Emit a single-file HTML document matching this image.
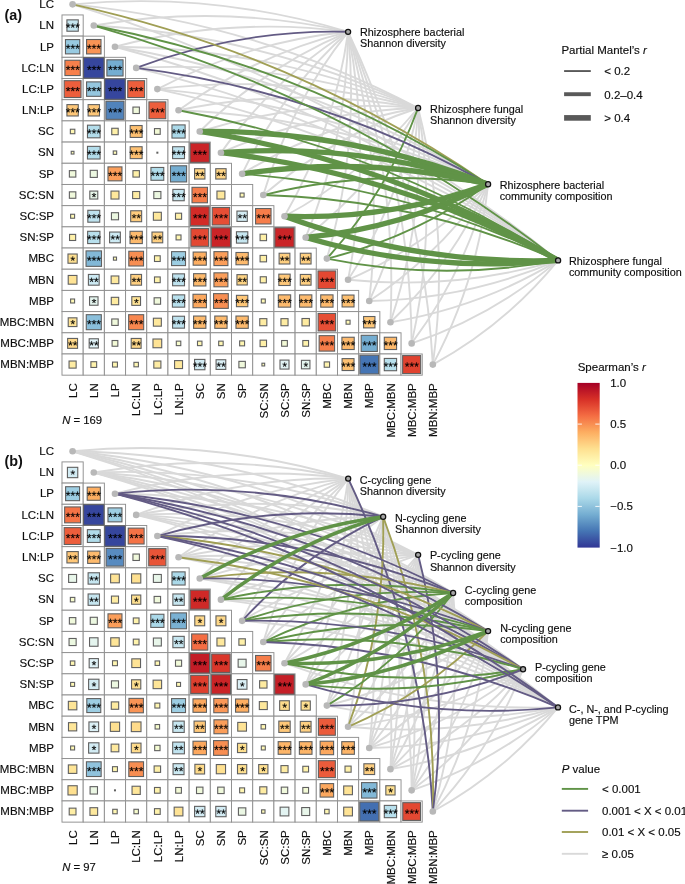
<!DOCTYPE html><html><head><meta charset="utf-8"><style>
html,body{margin:0;padding:0;background:#fff;}
svg{display:block;font-family:"Liberation Sans",sans-serif;will-change:transform;}
</style></head><body>
<svg width="685" height="884" viewBox="0 0 685 884">
<defs><path id="ast" d="M0.337,-0.381 L1.897,-0.990 L2.162,-0.210 L0.496,0.222 L1.589,1.699 L0.886,2.124 L0.000,0.600 L-0.922,2.112 L-1.625,1.687 L-0.508,0.222 L-2.162,-0.210 L-1.897,-1.001 L-0.319,-0.369 L-0.390,-2.124 L0.414,-2.124Z"/></defs>
<g fill="none" stroke-linecap="butt">
<path d="M72.59,4.34Q213.02,-8.79 348.10,31.80" stroke="#d9d9d9" stroke-width="1.9"/>
<path d="M93.78,25.54Q221.55,3.87 348.10,31.80" stroke="#d9d9d9" stroke-width="1.9"/>
<path d="M114.97,46.73Q230.08,16.53 348.10,31.80" stroke="#d9d9d9" stroke-width="1.9"/>
<path d="M157.36,89.11Q247.14,41.85 348.10,31.80" stroke="#d9d9d9" stroke-width="1.9"/>
<path d="M178.55,110.30Q255.67,54.52 348.10,31.80" stroke="#d9d9d9" stroke-width="1.9"/>
<path d="M199.74,131.49Q264.20,67.18 348.10,31.80" stroke="#d9d9d9" stroke-width="1.9"/>
<path d="M220.93,152.68Q272.73,79.84 348.10,31.80" stroke="#d9d9d9" stroke-width="1.9"/>
<path d="M242.12,173.87Q281.26,92.50 348.10,31.80" stroke="#d9d9d9" stroke-width="1.9"/>
<path d="M263.31,195.06Q289.79,105.16 348.10,31.80" stroke="#d9d9d9" stroke-width="1.9"/>
<path d="M284.50,216.25Q334.28,130.22 348.10,31.80" stroke="#d9d9d9" stroke-width="1.9"/>
<path d="M305.69,237.44Q346.94,138.75 348.10,31.80" stroke="#d9d9d9" stroke-width="1.9"/>
<path d="M326.88,258.62Q359.60,147.28 348.10,31.80" stroke="#d9d9d9" stroke-width="1.9"/>
<path d="M348.06,279.81Q372.26,155.81 348.10,31.80" stroke="#d9d9d9" stroke-width="1.9"/>
<path d="M369.25,301.00Q384.92,164.34 348.10,31.80" stroke="#d9d9d9" stroke-width="1.9"/>
<path d="M390.44,322.19Q397.59,172.87 348.10,31.80" stroke="#d9d9d9" stroke-width="1.9"/>
<path d="M411.64,343.38Q410.25,181.40 348.10,31.80" stroke="#d9d9d9" stroke-width="1.9"/>
<path d="M432.83,364.58Q422.91,189.93 348.10,31.80" stroke="#d9d9d9" stroke-width="1.9"/>
<path d="M72.59,4.34Q255.45,22.49 418.10,108.00" stroke="#d9d9d9" stroke-width="1.9"/>
<path d="M93.78,25.54Q263.98,35.15 418.10,108.00" stroke="#d9d9d9" stroke-width="1.9"/>
<path d="M114.97,46.73Q272.51,47.81 418.10,108.00" stroke="#d9d9d9" stroke-width="1.9"/>
<path d="M136.17,67.92Q281.04,60.47 418.10,108.00" stroke="#d9d9d9" stroke-width="1.9"/>
<path d="M157.36,89.11Q289.57,73.13 418.10,108.00" stroke="#d9d9d9" stroke-width="1.9"/>
<path d="M178.55,110.30Q298.10,85.79 418.10,108.00" stroke="#d9d9d9" stroke-width="1.9"/>
<path d="M199.74,131.49Q306.63,98.45 418.10,108.00" stroke="#d9d9d9" stroke-width="1.9"/>
<path d="M220.93,152.68Q315.16,111.11 418.10,108.00" stroke="#d9d9d9" stroke-width="1.9"/>
<path d="M242.12,173.87Q323.69,123.77 418.10,108.00" stroke="#d9d9d9" stroke-width="1.9"/>
<path d="M263.31,195.06Q332.21,136.43 418.10,108.00" stroke="#d9d9d9" stroke-width="1.9"/>
<path d="M284.50,216.25Q361.85,175.15 418.10,108.00" stroke="#d9d9d9" stroke-width="1.9"/>
<path d="M305.69,237.44Q374.51,183.68 418.10,108.00" stroke="#d9d9d9" stroke-width="1.9"/>
<path d="M348.06,279.81Q399.83,200.74 418.10,108.00" stroke="#d9d9d9" stroke-width="1.9"/>
<path d="M369.25,301.00Q412.50,209.26 418.10,108.00" stroke="#d9d9d9" stroke-width="1.9"/>
<path d="M390.44,322.19Q425.16,217.79 418.10,108.00" stroke="#d9d9d9" stroke-width="1.9"/>
<path d="M411.64,343.38Q437.82,226.32 418.10,108.00" stroke="#d9d9d9" stroke-width="1.9"/>
<path d="M432.83,364.58Q450.48,234.85 418.10,108.00" stroke="#d9d9d9" stroke-width="1.9"/>
<path d="M114.97,46.73Q314.94,79.08 488.10,184.20" stroke="#d9d9d9" stroke-width="1.9"/>
<path d="M157.36,89.11Q332.00,104.40 488.10,184.20" stroke="#d9d9d9" stroke-width="1.9"/>
<path d="M178.55,110.30Q340.53,117.07 488.10,184.20" stroke="#d9d9d9" stroke-width="1.9"/>
<path d="M348.06,279.81Q427.40,245.66 488.10,184.20" stroke="#d9d9d9" stroke-width="1.9"/>
<path d="M369.25,301.00Q440.07,254.19 488.10,184.20" stroke="#d9d9d9" stroke-width="1.9"/>
<path d="M390.44,322.19Q452.73,262.72 488.10,184.20" stroke="#d9d9d9" stroke-width="1.9"/>
<path d="M411.64,343.38Q465.39,271.25 488.10,184.20" stroke="#d9d9d9" stroke-width="1.9"/>
<path d="M432.83,364.58Q478.05,279.78 488.10,184.20" stroke="#d9d9d9" stroke-width="1.9"/>
<path d="M72.59,4.34Q340.31,85.04 558.10,260.40" stroke="#d9d9d9" stroke-width="1.9"/>
<path d="M114.97,46.73Q357.37,110.36 558.10,260.40" stroke="#d9d9d9" stroke-width="1.9"/>
<path d="M136.17,67.92Q365.90,123.02 558.10,260.40" stroke="#d9d9d9" stroke-width="1.9"/>
<path d="M157.36,89.11Q374.43,135.68 558.10,260.40" stroke="#d9d9d9" stroke-width="1.9"/>
<path d="M348.06,279.81Q454.98,290.59 558.10,260.40" stroke="#d9d9d9" stroke-width="1.9"/>
<path d="M369.25,301.00Q467.64,299.11 558.10,260.40" stroke="#d9d9d9" stroke-width="1.9"/>
<path d="M390.44,322.19Q480.30,307.64 558.10,260.40" stroke="#d9d9d9" stroke-width="1.9"/>
<path d="M411.64,343.38Q492.96,316.17 558.10,260.40" stroke="#d9d9d9" stroke-width="1.9"/>
<path d="M432.83,364.58Q505.62,324.70 558.10,260.40" stroke="#d9d9d9" stroke-width="1.9"/>
<path d="M136.17,67.92Q238.61,29.19 348.10,31.80" stroke="#635b84" stroke-width="1.9"/>
<path d="M326.88,258.62Q387.17,192.21 418.10,108.00" stroke="#609347" stroke-width="1.9"/>
<path d="M72.59,4.34Q297.88,53.76 488.10,184.20" stroke="#a09f55" stroke-width="1.9"/>
<path d="M93.78,25.54Q306.41,66.42 488.10,184.20" stroke="#609347" stroke-width="1.9"/>
<path d="M136.17,67.92Q323.47,91.74 488.10,184.20" stroke="#635b84" stroke-width="1.9"/>
<path d="M263.31,195.06Q374.64,167.71 488.10,184.20" stroke="#609347" stroke-width="1.9"/>
<path d="M326.88,258.62Q414.74,237.13 488.10,184.20" stroke="#609347" stroke-width="1.9"/>
<path d="M93.78,25.54Q348.84,97.70 558.10,260.40" stroke="#609347" stroke-width="1.9"/>
<path d="M178.55,110.30Q382.96,148.34 558.10,260.40" stroke="#609347" stroke-width="1.9"/>
<path d="M242.12,173.87Q408.54,186.32 558.10,260.40" stroke="#609347" stroke-width="1.9"/>
<path d="M263.31,195.06Q417.07,198.98 558.10,260.40" stroke="#609347" stroke-width="1.9"/>
<path d="M326.88,258.62Q442.31,282.06 558.10,260.40" stroke="#609347" stroke-width="1.9"/>
<path d="M199.74,131.49Q349.06,129.73 488.10,184.20" stroke="#609347" stroke-width="5.3"/>
<path d="M220.93,152.68Q357.59,142.39 488.10,184.20" stroke="#609347" stroke-width="5.3"/>
<path d="M242.12,173.87Q366.12,155.05 488.10,184.20" stroke="#609347" stroke-width="5.3"/>
<path d="M284.50,216.25Q389.42,220.07 488.10,184.20" stroke="#609347" stroke-width="5.3"/>
<path d="M305.69,237.44Q402.08,228.60 488.10,184.20" stroke="#609347" stroke-width="5.3"/>
<path d="M199.74,131.49Q391.49,161.00 558.10,260.40" stroke="#609347" stroke-width="5.3"/>
<path d="M220.93,152.68Q400.02,173.66 558.10,260.40" stroke="#609347" stroke-width="5.3"/>
<path d="M284.50,216.25Q416.99,265.00 558.10,260.40" stroke="#609347" stroke-width="5.3"/>
<path d="M305.69,237.44Q429.65,273.53 558.10,260.40" stroke="#609347" stroke-width="5.3"/>
</g>
<g>
<rect x="62.00" y="14.94" width="21.19" height="21.19" fill="#fff" stroke="#8f8f8f" stroke-width="0.95"/>
<rect x="62.00" y="36.13" width="21.19" height="21.19" fill="#fff" stroke="#8f8f8f" stroke-width="0.95"/>
<rect x="83.19" y="36.13" width="21.19" height="21.19" fill="#fff" stroke="#8f8f8f" stroke-width="0.95"/>
<rect x="62.00" y="57.32" width="21.19" height="21.19" fill="#fff" stroke="#8f8f8f" stroke-width="0.95"/>
<rect x="83.19" y="57.32" width="21.19" height="21.19" fill="#fff" stroke="#8f8f8f" stroke-width="0.95"/>
<rect x="104.38" y="57.32" width="21.19" height="21.19" fill="#fff" stroke="#8f8f8f" stroke-width="0.95"/>
<rect x="62.00" y="78.51" width="21.19" height="21.19" fill="#fff" stroke="#8f8f8f" stroke-width="0.95"/>
<rect x="83.19" y="78.51" width="21.19" height="21.19" fill="#fff" stroke="#8f8f8f" stroke-width="0.95"/>
<rect x="104.38" y="78.51" width="21.19" height="21.19" fill="#fff" stroke="#8f8f8f" stroke-width="0.95"/>
<rect x="125.57" y="78.51" width="21.19" height="21.19" fill="#fff" stroke="#8f8f8f" stroke-width="0.95"/>
<rect x="62.00" y="99.70" width="21.19" height="21.19" fill="#fff" stroke="#8f8f8f" stroke-width="0.95"/>
<rect x="83.19" y="99.70" width="21.19" height="21.19" fill="#fff" stroke="#8f8f8f" stroke-width="0.95"/>
<rect x="104.38" y="99.70" width="21.19" height="21.19" fill="#fff" stroke="#8f8f8f" stroke-width="0.95"/>
<rect x="125.57" y="99.70" width="21.19" height="21.19" fill="#fff" stroke="#8f8f8f" stroke-width="0.95"/>
<rect x="146.76" y="99.70" width="21.19" height="21.19" fill="#fff" stroke="#8f8f8f" stroke-width="0.95"/>
<rect x="62.00" y="120.89" width="21.19" height="21.19" fill="#fff" stroke="#8f8f8f" stroke-width="0.95"/>
<rect x="83.19" y="120.89" width="21.19" height="21.19" fill="#fff" stroke="#8f8f8f" stroke-width="0.95"/>
<rect x="104.38" y="120.89" width="21.19" height="21.19" fill="#fff" stroke="#8f8f8f" stroke-width="0.95"/>
<rect x="125.57" y="120.89" width="21.19" height="21.19" fill="#fff" stroke="#8f8f8f" stroke-width="0.95"/>
<rect x="146.76" y="120.89" width="21.19" height="21.19" fill="#fff" stroke="#8f8f8f" stroke-width="0.95"/>
<rect x="167.95" y="120.89" width="21.19" height="21.19" fill="#fff" stroke="#8f8f8f" stroke-width="0.95"/>
<rect x="62.00" y="142.08" width="21.19" height="21.19" fill="#fff" stroke="#8f8f8f" stroke-width="0.95"/>
<rect x="83.19" y="142.08" width="21.19" height="21.19" fill="#fff" stroke="#8f8f8f" stroke-width="0.95"/>
<rect x="104.38" y="142.08" width="21.19" height="21.19" fill="#fff" stroke="#8f8f8f" stroke-width="0.95"/>
<rect x="125.57" y="142.08" width="21.19" height="21.19" fill="#fff" stroke="#8f8f8f" stroke-width="0.95"/>
<rect x="146.76" y="142.08" width="21.19" height="21.19" fill="#fff" stroke="#8f8f8f" stroke-width="0.95"/>
<rect x="167.95" y="142.08" width="21.19" height="21.19" fill="#fff" stroke="#8f8f8f" stroke-width="0.95"/>
<rect x="189.14" y="142.08" width="21.19" height="21.19" fill="#fff" stroke="#8f8f8f" stroke-width="0.95"/>
<rect x="62.00" y="163.27" width="21.19" height="21.19" fill="#fff" stroke="#8f8f8f" stroke-width="0.95"/>
<rect x="83.19" y="163.27" width="21.19" height="21.19" fill="#fff" stroke="#8f8f8f" stroke-width="0.95"/>
<rect x="104.38" y="163.27" width="21.19" height="21.19" fill="#fff" stroke="#8f8f8f" stroke-width="0.95"/>
<rect x="125.57" y="163.27" width="21.19" height="21.19" fill="#fff" stroke="#8f8f8f" stroke-width="0.95"/>
<rect x="146.76" y="163.27" width="21.19" height="21.19" fill="#fff" stroke="#8f8f8f" stroke-width="0.95"/>
<rect x="167.95" y="163.27" width="21.19" height="21.19" fill="#fff" stroke="#8f8f8f" stroke-width="0.95"/>
<rect x="189.14" y="163.27" width="21.19" height="21.19" fill="#fff" stroke="#8f8f8f" stroke-width="0.95"/>
<rect x="210.33" y="163.27" width="21.19" height="21.19" fill="#fff" stroke="#8f8f8f" stroke-width="0.95"/>
<rect x="62.00" y="184.46" width="21.19" height="21.19" fill="#fff" stroke="#8f8f8f" stroke-width="0.95"/>
<rect x="83.19" y="184.46" width="21.19" height="21.19" fill="#fff" stroke="#8f8f8f" stroke-width="0.95"/>
<rect x="104.38" y="184.46" width="21.19" height="21.19" fill="#fff" stroke="#8f8f8f" stroke-width="0.95"/>
<rect x="125.57" y="184.46" width="21.19" height="21.19" fill="#fff" stroke="#8f8f8f" stroke-width="0.95"/>
<rect x="146.76" y="184.46" width="21.19" height="21.19" fill="#fff" stroke="#8f8f8f" stroke-width="0.95"/>
<rect x="167.95" y="184.46" width="21.19" height="21.19" fill="#fff" stroke="#8f8f8f" stroke-width="0.95"/>
<rect x="189.14" y="184.46" width="21.19" height="21.19" fill="#fff" stroke="#8f8f8f" stroke-width="0.95"/>
<rect x="210.33" y="184.46" width="21.19" height="21.19" fill="#fff" stroke="#8f8f8f" stroke-width="0.95"/>
<rect x="231.52" y="184.46" width="21.19" height="21.19" fill="#fff" stroke="#8f8f8f" stroke-width="0.95"/>
<rect x="62.00" y="205.65" width="21.19" height="21.19" fill="#fff" stroke="#8f8f8f" stroke-width="0.95"/>
<rect x="83.19" y="205.65" width="21.19" height="21.19" fill="#fff" stroke="#8f8f8f" stroke-width="0.95"/>
<rect x="104.38" y="205.65" width="21.19" height="21.19" fill="#fff" stroke="#8f8f8f" stroke-width="0.95"/>
<rect x="125.57" y="205.65" width="21.19" height="21.19" fill="#fff" stroke="#8f8f8f" stroke-width="0.95"/>
<rect x="146.76" y="205.65" width="21.19" height="21.19" fill="#fff" stroke="#8f8f8f" stroke-width="0.95"/>
<rect x="167.95" y="205.65" width="21.19" height="21.19" fill="#fff" stroke="#8f8f8f" stroke-width="0.95"/>
<rect x="189.14" y="205.65" width="21.19" height="21.19" fill="#fff" stroke="#8f8f8f" stroke-width="0.95"/>
<rect x="210.33" y="205.65" width="21.19" height="21.19" fill="#fff" stroke="#8f8f8f" stroke-width="0.95"/>
<rect x="231.52" y="205.65" width="21.19" height="21.19" fill="#fff" stroke="#8f8f8f" stroke-width="0.95"/>
<rect x="252.71" y="205.65" width="21.19" height="21.19" fill="#fff" stroke="#8f8f8f" stroke-width="0.95"/>
<rect x="62.00" y="226.84" width="21.19" height="21.19" fill="#fff" stroke="#8f8f8f" stroke-width="0.95"/>
<rect x="83.19" y="226.84" width="21.19" height="21.19" fill="#fff" stroke="#8f8f8f" stroke-width="0.95"/>
<rect x="104.38" y="226.84" width="21.19" height="21.19" fill="#fff" stroke="#8f8f8f" stroke-width="0.95"/>
<rect x="125.57" y="226.84" width="21.19" height="21.19" fill="#fff" stroke="#8f8f8f" stroke-width="0.95"/>
<rect x="146.76" y="226.84" width="21.19" height="21.19" fill="#fff" stroke="#8f8f8f" stroke-width="0.95"/>
<rect x="167.95" y="226.84" width="21.19" height="21.19" fill="#fff" stroke="#8f8f8f" stroke-width="0.95"/>
<rect x="189.14" y="226.84" width="21.19" height="21.19" fill="#fff" stroke="#8f8f8f" stroke-width="0.95"/>
<rect x="210.33" y="226.84" width="21.19" height="21.19" fill="#fff" stroke="#8f8f8f" stroke-width="0.95"/>
<rect x="231.52" y="226.84" width="21.19" height="21.19" fill="#fff" stroke="#8f8f8f" stroke-width="0.95"/>
<rect x="252.71" y="226.84" width="21.19" height="21.19" fill="#fff" stroke="#8f8f8f" stroke-width="0.95"/>
<rect x="273.90" y="226.84" width="21.19" height="21.19" fill="#fff" stroke="#8f8f8f" stroke-width="0.95"/>
<rect x="62.00" y="248.03" width="21.19" height="21.19" fill="#fff" stroke="#8f8f8f" stroke-width="0.95"/>
<rect x="83.19" y="248.03" width="21.19" height="21.19" fill="#fff" stroke="#8f8f8f" stroke-width="0.95"/>
<rect x="104.38" y="248.03" width="21.19" height="21.19" fill="#fff" stroke="#8f8f8f" stroke-width="0.95"/>
<rect x="125.57" y="248.03" width="21.19" height="21.19" fill="#fff" stroke="#8f8f8f" stroke-width="0.95"/>
<rect x="146.76" y="248.03" width="21.19" height="21.19" fill="#fff" stroke="#8f8f8f" stroke-width="0.95"/>
<rect x="167.95" y="248.03" width="21.19" height="21.19" fill="#fff" stroke="#8f8f8f" stroke-width="0.95"/>
<rect x="189.14" y="248.03" width="21.19" height="21.19" fill="#fff" stroke="#8f8f8f" stroke-width="0.95"/>
<rect x="210.33" y="248.03" width="21.19" height="21.19" fill="#fff" stroke="#8f8f8f" stroke-width="0.95"/>
<rect x="231.52" y="248.03" width="21.19" height="21.19" fill="#fff" stroke="#8f8f8f" stroke-width="0.95"/>
<rect x="252.71" y="248.03" width="21.19" height="21.19" fill="#fff" stroke="#8f8f8f" stroke-width="0.95"/>
<rect x="273.90" y="248.03" width="21.19" height="21.19" fill="#fff" stroke="#8f8f8f" stroke-width="0.95"/>
<rect x="295.09" y="248.03" width="21.19" height="21.19" fill="#fff" stroke="#8f8f8f" stroke-width="0.95"/>
<rect x="62.00" y="269.22" width="21.19" height="21.19" fill="#fff" stroke="#8f8f8f" stroke-width="0.95"/>
<rect x="83.19" y="269.22" width="21.19" height="21.19" fill="#fff" stroke="#8f8f8f" stroke-width="0.95"/>
<rect x="104.38" y="269.22" width="21.19" height="21.19" fill="#fff" stroke="#8f8f8f" stroke-width="0.95"/>
<rect x="125.57" y="269.22" width="21.19" height="21.19" fill="#fff" stroke="#8f8f8f" stroke-width="0.95"/>
<rect x="146.76" y="269.22" width="21.19" height="21.19" fill="#fff" stroke="#8f8f8f" stroke-width="0.95"/>
<rect x="167.95" y="269.22" width="21.19" height="21.19" fill="#fff" stroke="#8f8f8f" stroke-width="0.95"/>
<rect x="189.14" y="269.22" width="21.19" height="21.19" fill="#fff" stroke="#8f8f8f" stroke-width="0.95"/>
<rect x="210.33" y="269.22" width="21.19" height="21.19" fill="#fff" stroke="#8f8f8f" stroke-width="0.95"/>
<rect x="231.52" y="269.22" width="21.19" height="21.19" fill="#fff" stroke="#8f8f8f" stroke-width="0.95"/>
<rect x="252.71" y="269.22" width="21.19" height="21.19" fill="#fff" stroke="#8f8f8f" stroke-width="0.95"/>
<rect x="273.90" y="269.22" width="21.19" height="21.19" fill="#fff" stroke="#8f8f8f" stroke-width="0.95"/>
<rect x="295.09" y="269.22" width="21.19" height="21.19" fill="#fff" stroke="#8f8f8f" stroke-width="0.95"/>
<rect x="316.28" y="269.22" width="21.19" height="21.19" fill="#fff" stroke="#8f8f8f" stroke-width="0.95"/>
<rect x="62.00" y="290.41" width="21.19" height="21.19" fill="#fff" stroke="#8f8f8f" stroke-width="0.95"/>
<rect x="83.19" y="290.41" width="21.19" height="21.19" fill="#fff" stroke="#8f8f8f" stroke-width="0.95"/>
<rect x="104.38" y="290.41" width="21.19" height="21.19" fill="#fff" stroke="#8f8f8f" stroke-width="0.95"/>
<rect x="125.57" y="290.41" width="21.19" height="21.19" fill="#fff" stroke="#8f8f8f" stroke-width="0.95"/>
<rect x="146.76" y="290.41" width="21.19" height="21.19" fill="#fff" stroke="#8f8f8f" stroke-width="0.95"/>
<rect x="167.95" y="290.41" width="21.19" height="21.19" fill="#fff" stroke="#8f8f8f" stroke-width="0.95"/>
<rect x="189.14" y="290.41" width="21.19" height="21.19" fill="#fff" stroke="#8f8f8f" stroke-width="0.95"/>
<rect x="210.33" y="290.41" width="21.19" height="21.19" fill="#fff" stroke="#8f8f8f" stroke-width="0.95"/>
<rect x="231.52" y="290.41" width="21.19" height="21.19" fill="#fff" stroke="#8f8f8f" stroke-width="0.95"/>
<rect x="252.71" y="290.41" width="21.19" height="21.19" fill="#fff" stroke="#8f8f8f" stroke-width="0.95"/>
<rect x="273.90" y="290.41" width="21.19" height="21.19" fill="#fff" stroke="#8f8f8f" stroke-width="0.95"/>
<rect x="295.09" y="290.41" width="21.19" height="21.19" fill="#fff" stroke="#8f8f8f" stroke-width="0.95"/>
<rect x="316.28" y="290.41" width="21.19" height="21.19" fill="#fff" stroke="#8f8f8f" stroke-width="0.95"/>
<rect x="337.47" y="290.41" width="21.19" height="21.19" fill="#fff" stroke="#8f8f8f" stroke-width="0.95"/>
<rect x="62.00" y="311.60" width="21.19" height="21.19" fill="#fff" stroke="#8f8f8f" stroke-width="0.95"/>
<rect x="83.19" y="311.60" width="21.19" height="21.19" fill="#fff" stroke="#8f8f8f" stroke-width="0.95"/>
<rect x="104.38" y="311.60" width="21.19" height="21.19" fill="#fff" stroke="#8f8f8f" stroke-width="0.95"/>
<rect x="125.57" y="311.60" width="21.19" height="21.19" fill="#fff" stroke="#8f8f8f" stroke-width="0.95"/>
<rect x="146.76" y="311.60" width="21.19" height="21.19" fill="#fff" stroke="#8f8f8f" stroke-width="0.95"/>
<rect x="167.95" y="311.60" width="21.19" height="21.19" fill="#fff" stroke="#8f8f8f" stroke-width="0.95"/>
<rect x="189.14" y="311.60" width="21.19" height="21.19" fill="#fff" stroke="#8f8f8f" stroke-width="0.95"/>
<rect x="210.33" y="311.60" width="21.19" height="21.19" fill="#fff" stroke="#8f8f8f" stroke-width="0.95"/>
<rect x="231.52" y="311.60" width="21.19" height="21.19" fill="#fff" stroke="#8f8f8f" stroke-width="0.95"/>
<rect x="252.71" y="311.60" width="21.19" height="21.19" fill="#fff" stroke="#8f8f8f" stroke-width="0.95"/>
<rect x="273.90" y="311.60" width="21.19" height="21.19" fill="#fff" stroke="#8f8f8f" stroke-width="0.95"/>
<rect x="295.09" y="311.60" width="21.19" height="21.19" fill="#fff" stroke="#8f8f8f" stroke-width="0.95"/>
<rect x="316.28" y="311.60" width="21.19" height="21.19" fill="#fff" stroke="#8f8f8f" stroke-width="0.95"/>
<rect x="337.47" y="311.60" width="21.19" height="21.19" fill="#fff" stroke="#8f8f8f" stroke-width="0.95"/>
<rect x="358.66" y="311.60" width="21.19" height="21.19" fill="#fff" stroke="#8f8f8f" stroke-width="0.95"/>
<rect x="62.00" y="332.79" width="21.19" height="21.19" fill="#fff" stroke="#8f8f8f" stroke-width="0.95"/>
<rect x="83.19" y="332.79" width="21.19" height="21.19" fill="#fff" stroke="#8f8f8f" stroke-width="0.95"/>
<rect x="104.38" y="332.79" width="21.19" height="21.19" fill="#fff" stroke="#8f8f8f" stroke-width="0.95"/>
<rect x="125.57" y="332.79" width="21.19" height="21.19" fill="#fff" stroke="#8f8f8f" stroke-width="0.95"/>
<rect x="146.76" y="332.79" width="21.19" height="21.19" fill="#fff" stroke="#8f8f8f" stroke-width="0.95"/>
<rect x="167.95" y="332.79" width="21.19" height="21.19" fill="#fff" stroke="#8f8f8f" stroke-width="0.95"/>
<rect x="189.14" y="332.79" width="21.19" height="21.19" fill="#fff" stroke="#8f8f8f" stroke-width="0.95"/>
<rect x="210.33" y="332.79" width="21.19" height="21.19" fill="#fff" stroke="#8f8f8f" stroke-width="0.95"/>
<rect x="231.52" y="332.79" width="21.19" height="21.19" fill="#fff" stroke="#8f8f8f" stroke-width="0.95"/>
<rect x="252.71" y="332.79" width="21.19" height="21.19" fill="#fff" stroke="#8f8f8f" stroke-width="0.95"/>
<rect x="273.90" y="332.79" width="21.19" height="21.19" fill="#fff" stroke="#8f8f8f" stroke-width="0.95"/>
<rect x="295.09" y="332.79" width="21.19" height="21.19" fill="#fff" stroke="#8f8f8f" stroke-width="0.95"/>
<rect x="316.28" y="332.79" width="21.19" height="21.19" fill="#fff" stroke="#8f8f8f" stroke-width="0.95"/>
<rect x="337.47" y="332.79" width="21.19" height="21.19" fill="#fff" stroke="#8f8f8f" stroke-width="0.95"/>
<rect x="358.66" y="332.79" width="21.19" height="21.19" fill="#fff" stroke="#8f8f8f" stroke-width="0.95"/>
<rect x="379.85" y="332.79" width="21.19" height="21.19" fill="#fff" stroke="#8f8f8f" stroke-width="0.95"/>
<rect x="62.00" y="353.98" width="21.19" height="21.19" fill="#fff" stroke="#8f8f8f" stroke-width="0.95"/>
<rect x="83.19" y="353.98" width="21.19" height="21.19" fill="#fff" stroke="#8f8f8f" stroke-width="0.95"/>
<rect x="104.38" y="353.98" width="21.19" height="21.19" fill="#fff" stroke="#8f8f8f" stroke-width="0.95"/>
<rect x="125.57" y="353.98" width="21.19" height="21.19" fill="#fff" stroke="#8f8f8f" stroke-width="0.95"/>
<rect x="146.76" y="353.98" width="21.19" height="21.19" fill="#fff" stroke="#8f8f8f" stroke-width="0.95"/>
<rect x="167.95" y="353.98" width="21.19" height="21.19" fill="#fff" stroke="#8f8f8f" stroke-width="0.95"/>
<rect x="189.14" y="353.98" width="21.19" height="21.19" fill="#fff" stroke="#8f8f8f" stroke-width="0.95"/>
<rect x="210.33" y="353.98" width="21.19" height="21.19" fill="#fff" stroke="#8f8f8f" stroke-width="0.95"/>
<rect x="231.52" y="353.98" width="21.19" height="21.19" fill="#fff" stroke="#8f8f8f" stroke-width="0.95"/>
<rect x="252.71" y="353.98" width="21.19" height="21.19" fill="#fff" stroke="#8f8f8f" stroke-width="0.95"/>
<rect x="273.90" y="353.98" width="21.19" height="21.19" fill="#fff" stroke="#8f8f8f" stroke-width="0.95"/>
<rect x="295.09" y="353.98" width="21.19" height="21.19" fill="#fff" stroke="#8f8f8f" stroke-width="0.95"/>
<rect x="316.28" y="353.98" width="21.19" height="21.19" fill="#fff" stroke="#8f8f8f" stroke-width="0.95"/>
<rect x="337.47" y="353.98" width="21.19" height="21.19" fill="#fff" stroke="#8f8f8f" stroke-width="0.95"/>
<rect x="358.66" y="353.98" width="21.19" height="21.19" fill="#fff" stroke="#8f8f8f" stroke-width="0.95"/>
<rect x="379.85" y="353.98" width="21.19" height="21.19" fill="#fff" stroke="#8f8f8f" stroke-width="0.95"/>
<rect x="401.04" y="353.98" width="21.19" height="21.19" fill="#fff" stroke="#8f8f8f" stroke-width="0.95"/>
<rect x="66.92" y="19.86" width="11.36" height="11.36" fill="#c6e6f0" stroke="#606060" stroke-width="1.1"/>
<rect x="65.46" y="39.59" width="14.28" height="14.28" fill="#98cae1" stroke="#606060" stroke-width="1.1"/>
<rect x="86.57" y="39.51" width="14.43" height="14.43" fill="#f99455" stroke="#606060" stroke-width="1.1"/>
<rect x="64.93" y="60.25" width="15.32" height="15.32" fill="#f7804c" stroke="#606060" stroke-width="1.1"/>
<rect x="83.58" y="57.71" width="20.40" height="20.40" fill="#36469d" stroke="#606060" stroke-width="1.1"/>
<rect x="106.89" y="59.83" width="16.16" height="16.16" fill="#74add1" stroke="#606060" stroke-width="1.1"/>
<rect x="64.18" y="80.69" width="16.83" height="16.83" fill="#ed5e3c" stroke="#606060" stroke-width="1.1"/>
<rect x="86.57" y="81.89" width="14.43" height="14.43" fill="#95c7df" stroke="#606060" stroke-width="1.1"/>
<rect x="104.77" y="78.90" width="20.40" height="20.40" fill="#36469d" stroke="#606060" stroke-width="1.1"/>
<rect x="127.75" y="80.69" width="16.83" height="16.83" fill="#ed5e3c" stroke="#606060" stroke-width="1.1"/>
<rect x="66.92" y="104.62" width="11.36" height="11.36" fill="#fec778" stroke="#606060" stroke-width="1.1"/>
<rect x="88.11" y="104.62" width="11.36" height="11.36" fill="#fec778" stroke="#606060" stroke-width="1.1"/>
<rect x="105.92" y="101.24" width="18.10" height="18.10" fill="#5183bb" stroke="#606060" stroke-width="1.1"/>
<rect x="132.94" y="107.07" width="6.45" height="6.45" fill="#f0f9dc" stroke="#606060" stroke-width="1.1"/>
<rect x="148.94" y="101.88" width="16.83" height="16.83" fill="#ed5e3c" stroke="#606060" stroke-width="1.1"/>
<rect x="70.35" y="129.24" width="4.49" height="4.49" fill="#fff7b3" stroke="#606060" stroke-width="1.1"/>
<rect x="87.47" y="125.17" width="12.64" height="12.64" fill="#b3ddeb" stroke="#606060" stroke-width="1.1"/>
<rect x="111.75" y="128.26" width="6.45" height="6.45" fill="#fef0a8" stroke="#606060" stroke-width="1.1"/>
<rect x="130.20" y="125.52" width="11.92" height="11.92" fill="#fdc071" stroke="#606060" stroke-width="1.1"/>
<rect x="154.48" y="128.61" width="5.74" height="5.74" fill="#f3fad6" stroke="#606060" stroke-width="1.1"/>
<rect x="171.97" y="124.91" width="13.15" height="13.15" fill="#abd9e9" stroke="#606060" stroke-width="1.1"/>
<rect x="71.22" y="151.30" width="2.75" height="2.75" fill="#fffcba" stroke="#606060" stroke-width="1.1"/>
<rect x="87.47" y="146.36" width="12.64" height="12.64" fill="#b3ddeb" stroke="#606060" stroke-width="1.1"/>
<rect x="113.26" y="150.96" width="3.42" height="3.42" fill="#fffab8" stroke="#606060" stroke-width="1.1"/>
<rect x="130.20" y="146.71" width="11.92" height="11.92" fill="#fdc071" stroke="#606060" stroke-width="1.1"/>
<rect x="156.90" y="152.22" width="0.91" height="0.91" fill="#ffffbe" stroke="#606060" stroke-width="1.1"/>
<rect x="172.58" y="146.71" width="11.92" height="11.92" fill="#bee2ee" stroke="#606060" stroke-width="1.1"/>
<rect x="190.09" y="143.03" width="19.29" height="19.29" fill="#ca2427" stroke="#606060" stroke-width="1.1"/>
<rect x="69.37" y="170.64" width="6.45" height="6.45" fill="#f0f9dc" stroke="#606060" stroke-width="1.1"/>
<rect x="90.24" y="170.32" width="7.09" height="7.09" fill="#ecf8e1" stroke="#606060" stroke-width="1.1"/>
<rect x="107.99" y="166.88" width="13.96" height="13.96" fill="#fb9e5a" stroke="#606060" stroke-width="1.1"/>
<rect x="132.94" y="170.64" width="6.45" height="6.45" fill="#fef0a8" stroke="#606060" stroke-width="1.1"/>
<rect x="150.95" y="167.46" width="12.81" height="12.81" fill="#b0dcea" stroke="#606060" stroke-width="1.1"/>
<rect x="170.46" y="165.78" width="16.16" height="16.16" fill="#74add1" stroke="#606060" stroke-width="1.1"/>
<rect x="194.56" y="168.69" width="10.35" height="10.35" fill="#fed484" stroke="#606060" stroke-width="1.1"/>
<rect x="215.75" y="168.69" width="10.35" height="10.35" fill="#fed484" stroke="#606060" stroke-width="1.1"/>
<rect x="69.37" y="191.83" width="6.45" height="6.45" fill="#f0f9dc" stroke="#606060" stroke-width="1.1"/>
<rect x="89.81" y="191.08" width="7.96" height="7.96" fill="#e8f6ea" stroke="#606060" stroke-width="1.1"/>
<rect x="111.00" y="191.08" width="7.96" height="7.96" fill="#fee89c" stroke="#606060" stroke-width="1.1"/>
<rect x="132.62" y="191.51" width="7.09" height="7.09" fill="#feeca3" stroke="#606060" stroke-width="1.1"/>
<rect x="153.81" y="191.51" width="7.09" height="7.09" fill="#ecf8e1" stroke="#606060" stroke-width="1.1"/>
<rect x="172.87" y="189.38" width="11.36" height="11.36" fill="#c6e6f0" stroke="#606060" stroke-width="1.1"/>
<rect x="192.00" y="187.32" width="15.46" height="15.46" fill="#f67d4a" stroke="#606060" stroke-width="1.1"/>
<rect x="216.95" y="191.08" width="7.96" height="7.96" fill="#fee89c" stroke="#606060" stroke-width="1.1"/>
<rect x="240.12" y="193.06" width="3.99" height="3.99" fill="#fff9b6" stroke="#606060" stroke-width="1.1"/>
<rect x="70.60" y="214.25" width="3.99" height="3.99" fill="#fff9b6" stroke="#606060" stroke-width="1.1"/>
<rect x="87.82" y="210.28" width="11.92" height="11.92" fill="#bee2ee" stroke="#606060" stroke-width="1.1"/>
<rect x="111.43" y="212.70" width="7.09" height="7.09" fill="#ecf8e1" stroke="#606060" stroke-width="1.1"/>
<rect x="130.68" y="210.76" width="10.96" height="10.96" fill="#fecc7d" stroke="#606060" stroke-width="1.1"/>
<rect x="153.38" y="212.27" width="7.96" height="7.96" fill="#fee89c" stroke="#606060" stroke-width="1.1"/>
<rect x="175.49" y="213.19" width="6.11" height="6.11" fill="#fff1aa" stroke="#606060" stroke-width="1.1"/>
<rect x="190.27" y="206.78" width="18.94" height="18.94" fill="#d22b27" stroke="#606060" stroke-width="1.1"/>
<rect x="212.19" y="207.51" width="17.48" height="17.48" fill="#e64e35" stroke="#606060" stroke-width="1.1"/>
<rect x="236.94" y="211.07" width="10.35" height="10.35" fill="#d3ecf4" stroke="#606060" stroke-width="1.1"/>
<rect x="255.57" y="208.51" width="15.46" height="15.46" fill="#f67d4a" stroke="#606060" stroke-width="1.1"/>
<rect x="69.54" y="234.38" width="6.11" height="6.11" fill="#fff1aa" stroke="#606060" stroke-width="1.1"/>
<rect x="87.64" y="231.29" width="12.29" height="12.29" fill="#b8e0ed" stroke="#606060" stroke-width="1.1"/>
<rect x="109.59" y="232.05" width="10.76" height="10.76" fill="#cdeaf3" stroke="#606060" stroke-width="1.1"/>
<rect x="130.02" y="231.29" width="12.29" height="12.29" fill="#fdba6d" stroke="#606060" stroke-width="1.1"/>
<rect x="151.97" y="232.05" width="10.76" height="10.76" fill="#fecf80" stroke="#606060" stroke-width="1.1"/>
<rect x="176.07" y="234.96" width="4.94" height="4.94" fill="#fff6b1" stroke="#606060" stroke-width="1.1"/>
<rect x="190.87" y="228.57" width="17.73" height="17.73" fill="#e34832" stroke="#606060" stroke-width="1.1"/>
<rect x="211.28" y="227.79" width="19.29" height="19.29" fill="#ca2427" stroke="#606060" stroke-width="1.1"/>
<rect x="236.44" y="231.76" width="11.36" height="11.36" fill="#c6e6f0" stroke="#606060" stroke-width="1.1"/>
<rect x="260.08" y="234.21" width="6.45" height="6.45" fill="#fef0a8" stroke="#606060" stroke-width="1.1"/>
<rect x="274.85" y="227.79" width="19.29" height="19.29" fill="#ca2427" stroke="#606060" stroke-width="1.1"/>
<rect x="67.98" y="254.01" width="9.23" height="9.23" fill="#fee090" stroke="#606060" stroke-width="1.1"/>
<rect x="86.05" y="250.89" width="15.46" height="15.46" fill="#82b8d7" stroke="#606060" stroke-width="1.1"/>
<rect x="113.42" y="257.07" width="3.10" height="3.10" fill="#fffbb9" stroke="#606060" stroke-width="1.1"/>
<rect x="128.80" y="251.26" width="14.73" height="14.73" fill="#f88e52" stroke="#606060" stroke-width="1.1"/>
<rect x="154.48" y="255.75" width="5.74" height="5.74" fill="#fff3ac" stroke="#606060" stroke-width="1.1"/>
<rect x="171.56" y="251.64" width="13.96" height="13.96" fill="#9dcee3" stroke="#606060" stroke-width="1.1"/>
<rect x="193.16" y="252.05" width="13.15" height="13.15" fill="#fdae61" stroke="#606060" stroke-width="1.1"/>
<rect x="213.94" y="251.64" width="13.96" height="13.96" fill="#fb9e5a" stroke="#606060" stroke-width="1.1"/>
<rect x="235.97" y="252.48" width="12.29" height="12.29" fill="#fdba6d" stroke="#606060" stroke-width="1.1"/>
<rect x="260.08" y="255.40" width="6.45" height="6.45" fill="#fef0a8" stroke="#606060" stroke-width="1.1"/>
<rect x="279.11" y="253.24" width="10.76" height="10.76" fill="#fecf80" stroke="#606060" stroke-width="1.1"/>
<rect x="300.30" y="253.24" width="10.76" height="10.76" fill="#fecf80" stroke="#606060" stroke-width="1.1"/>
<rect x="68.22" y="275.44" width="8.74" height="8.74" fill="#fee395" stroke="#606060" stroke-width="1.1"/>
<rect x="88.40" y="274.43" width="10.76" height="10.76" fill="#cdeaf3" stroke="#606060" stroke-width="1.1"/>
<rect x="111.14" y="275.98" width="7.68" height="7.68" fill="#fee99e" stroke="#606060" stroke-width="1.1"/>
<rect x="130.78" y="274.43" width="10.76" height="10.76" fill="#fecf80" stroke="#606060" stroke-width="1.1"/>
<rect x="154.48" y="276.94" width="5.74" height="5.74" fill="#fff3ac" stroke="#606060" stroke-width="1.1"/>
<rect x="172.58" y="273.85" width="11.92" height="11.92" fill="#bee2ee" stroke="#606060" stroke-width="1.1"/>
<rect x="193.59" y="273.67" width="12.29" height="12.29" fill="#fdba6d" stroke="#606060" stroke-width="1.1"/>
<rect x="213.94" y="272.83" width="13.96" height="13.96" fill="#fb9e5a" stroke="#606060" stroke-width="1.1"/>
<rect x="236.94" y="274.64" width="10.35" height="10.35" fill="#fed484" stroke="#606060" stroke-width="1.1"/>
<rect x="260.25" y="276.76" width="6.11" height="6.11" fill="#fff1aa" stroke="#606060" stroke-width="1.1"/>
<rect x="278.82" y="274.14" width="11.36" height="11.36" fill="#fec778" stroke="#606060" stroke-width="1.1"/>
<rect x="300.30" y="274.43" width="10.76" height="10.76" fill="#fecf80" stroke="#606060" stroke-width="1.1"/>
<rect x="318.01" y="270.95" width="17.73" height="17.73" fill="#e34832" stroke="#606060" stroke-width="1.1"/>
<rect x="70.60" y="299.01" width="3.99" height="3.99" fill="#fff9b6" stroke="#606060" stroke-width="1.1"/>
<rect x="89.54" y="296.76" width="8.49" height="8.49" fill="#e5f5ef" stroke="#606060" stroke-width="1.1"/>
<rect x="111.28" y="297.31" width="7.39" height="7.39" fill="#feeba0" stroke="#606060" stroke-width="1.1"/>
<rect x="131.79" y="296.63" width="8.74" height="8.74" fill="#fee395" stroke="#606060" stroke-width="1.1"/>
<rect x="154.13" y="297.78" width="6.45" height="6.45" fill="#f0f9dc" stroke="#606060" stroke-width="1.1"/>
<rect x="172.40" y="294.86" width="12.29" height="12.29" fill="#b8e0ed" stroke="#606060" stroke-width="1.1"/>
<rect x="192.99" y="294.26" width="13.48" height="13.48" fill="#fca85e" stroke="#606060" stroke-width="1.1"/>
<rect x="213.56" y="293.64" width="14.73" height="14.73" fill="#f88e52" stroke="#606060" stroke-width="1.1"/>
<rect x="236.44" y="295.33" width="11.36" height="11.36" fill="#fec778" stroke="#606060" stroke-width="1.1"/>
<rect x="261.31" y="299.01" width="3.99" height="3.99" fill="#fff9b6" stroke="#606060" stroke-width="1.1"/>
<rect x="278.35" y="294.86" width="12.29" height="12.29" fill="#fdba6d" stroke="#606060" stroke-width="1.1"/>
<rect x="299.54" y="294.86" width="12.29" height="12.29" fill="#fdba6d" stroke="#606060" stroke-width="1.1"/>
<rect x="320.73" y="294.86" width="12.29" height="12.29" fill="#fdba6d" stroke="#606060" stroke-width="1.1"/>
<rect x="342.10" y="295.04" width="11.92" height="11.92" fill="#fdc071" stroke="#606060" stroke-width="1.1"/>
<rect x="68.22" y="317.82" width="8.74" height="8.74" fill="#fee395" stroke="#606060" stroke-width="1.1"/>
<rect x="86.27" y="314.68" width="15.03" height="15.03" fill="#8abfdb" stroke="#606060" stroke-width="1.1"/>
<rect x="111.75" y="318.97" width="6.45" height="6.45" fill="#f0f9dc" stroke="#606060" stroke-width="1.1"/>
<rect x="128.65" y="314.68" width="15.03" height="15.03" fill="#f8874f" stroke="#606060" stroke-width="1.1"/>
<rect x="153.38" y="318.22" width="7.96" height="7.96" fill="#fee89c" stroke="#606060" stroke-width="1.1"/>
<rect x="172.58" y="316.23" width="11.92" height="11.92" fill="#bee2ee" stroke="#606060" stroke-width="1.1"/>
<rect x="193.59" y="316.05" width="12.29" height="12.29" fill="#fdba6d" stroke="#606060" stroke-width="1.1"/>
<rect x="214.78" y="316.05" width="12.29" height="12.29" fill="#fdba6d" stroke="#606060" stroke-width="1.1"/>
<rect x="235.97" y="316.05" width="12.29" height="12.29" fill="#fdba6d" stroke="#606060" stroke-width="1.1"/>
<rect x="259.76" y="318.65" width="7.09" height="7.09" fill="#feeca3" stroke="#606060" stroke-width="1.1"/>
<rect x="280.95" y="318.65" width="7.09" height="7.09" fill="#feeca3" stroke="#606060" stroke-width="1.1"/>
<rect x="301.99" y="318.50" width="7.39" height="7.39" fill="#feeba0" stroke="#606060" stroke-width="1.1"/>
<rect x="318.14" y="313.46" width="17.48" height="17.48" fill="#e64e35" stroke="#606060" stroke-width="1.1"/>
<rect x="346.07" y="320.20" width="3.99" height="3.99" fill="#fff9b6" stroke="#606060" stroke-width="1.1"/>
<rect x="363.58" y="316.52" width="11.36" height="11.36" fill="#fec778" stroke="#606060" stroke-width="1.1"/>
<rect x="67.64" y="338.43" width="9.91" height="9.91" fill="#fed889" stroke="#606060" stroke-width="1.1"/>
<rect x="89.17" y="338.77" width="9.23" height="9.23" fill="#e0f3f8" stroke="#606060" stroke-width="1.1"/>
<rect x="112.10" y="340.51" width="5.74" height="5.74" fill="#f3fad6" stroke="#606060" stroke-width="1.1"/>
<rect x="131.21" y="338.43" width="9.91" height="9.91" fill="#fed889" stroke="#606060" stroke-width="1.1"/>
<rect x="152.98" y="339.01" width="8.74" height="8.74" fill="#fee395" stroke="#606060" stroke-width="1.1"/>
<rect x="176.30" y="341.14" width="4.49" height="4.49" fill="#f7fccd" stroke="#606060" stroke-width="1.1"/>
<rect x="197.49" y="341.14" width="4.49" height="4.49" fill="#fff7b3" stroke="#606060" stroke-width="1.1"/>
<rect x="218.68" y="341.14" width="4.49" height="4.49" fill="#fff7b3" stroke="#606060" stroke-width="1.1"/>
<rect x="239.64" y="340.91" width="4.94" height="4.94" fill="#fff6b1" stroke="#606060" stroke-width="1.1"/>
<rect x="260.08" y="340.16" width="6.45" height="6.45" fill="#fef0a8" stroke="#606060" stroke-width="1.1"/>
<rect x="281.62" y="340.51" width="5.74" height="5.74" fill="#f3fad6" stroke="#606060" stroke-width="1.1"/>
<rect x="302.81" y="340.51" width="5.74" height="5.74" fill="#fff3ac" stroke="#606060" stroke-width="1.1"/>
<rect x="319.14" y="335.65" width="15.46" height="15.46" fill="#f67d4a" stroke="#606060" stroke-width="1.1"/>
<rect x="341.92" y="337.24" width="12.29" height="12.29" fill="#fdba6d" stroke="#606060" stroke-width="1.1"/>
<rect x="361.17" y="335.30" width="16.16" height="16.16" fill="#74add1" stroke="#606060" stroke-width="1.1"/>
<rect x="384.30" y="337.24" width="12.29" height="12.29" fill="#fdba6d" stroke="#606060" stroke-width="1.1"/>
<rect x="69.05" y="361.03" width="7.09" height="7.09" fill="#feeca3" stroke="#606060" stroke-width="1.1"/>
<rect x="90.91" y="361.70" width="5.74" height="5.74" fill="#fff3ac" stroke="#606060" stroke-width="1.1"/>
<rect x="112.50" y="362.10" width="4.94" height="4.94" fill="#fff6b1" stroke="#606060" stroke-width="1.1"/>
<rect x="133.92" y="362.33" width="4.49" height="4.49" fill="#fff7b3" stroke="#606060" stroke-width="1.1"/>
<rect x="153.81" y="361.03" width="7.09" height="7.09" fill="#feeca3" stroke="#606060" stroke-width="1.1"/>
<rect x="174.57" y="360.60" width="7.96" height="7.96" fill="#fee89c" stroke="#606060" stroke-width="1.1"/>
<rect x="194.56" y="359.40" width="10.35" height="10.35" fill="#d3ecf4" stroke="#606060" stroke-width="1.1"/>
<rect x="216.08" y="359.73" width="9.69" height="9.69" fill="#dbf0f6" stroke="#606060" stroke-width="1.1"/>
<rect x="238.89" y="361.35" width="6.45" height="6.45" fill="#f0f9dc" stroke="#606060" stroke-width="1.1"/>
<rect x="261.93" y="363.20" width="2.75" height="2.75" fill="#fffcba" stroke="#606060" stroke-width="1.1"/>
<rect x="280.00" y="360.08" width="8.99" height="8.99" fill="#e2f4f5" stroke="#606060" stroke-width="1.1"/>
<rect x="301.44" y="360.33" width="8.49" height="8.49" fill="#e5f5ef" stroke="#606060" stroke-width="1.1"/>
<rect x="324.20" y="361.90" width="5.36" height="5.36" fill="#fff4af" stroke="#606060" stroke-width="1.1"/>
<rect x="342.10" y="358.61" width="11.92" height="11.92" fill="#fdc071" stroke="#606060" stroke-width="1.1"/>
<rect x="359.90" y="355.22" width="18.70" height="18.70" fill="#4575b4" stroke="#606060" stroke-width="1.1"/>
<rect x="384.30" y="358.43" width="12.29" height="12.29" fill="#b8e0ed" stroke="#606060" stroke-width="1.1"/>
<rect x="402.65" y="355.59" width="17.98" height="17.98" fill="#e0422f" stroke="#606060" stroke-width="1.1"/>
</g><g fill="#000" stroke="#000" stroke-width="0.15" stroke-linejoin="round">
<use href="#ast" x="68.09" y="25.54"/>
<use href="#ast" x="72.80" y="25.54"/>
<use href="#ast" x="77.50" y="25.54"/>
<use href="#ast" x="68.09" y="46.73"/>
<use href="#ast" x="72.80" y="46.73"/>
<use href="#ast" x="77.50" y="46.73"/>
<use href="#ast" x="89.28" y="46.73"/>
<use href="#ast" x="93.98" y="46.73"/>
<use href="#ast" x="98.69" y="46.73"/>
<use href="#ast" x="68.09" y="67.92"/>
<use href="#ast" x="72.80" y="67.92"/>
<use href="#ast" x="77.50" y="67.92"/>
<use href="#ast" x="89.28" y="67.92"/>
<use href="#ast" x="93.98" y="67.92"/>
<use href="#ast" x="98.69" y="67.92"/>
<use href="#ast" x="110.47" y="67.92"/>
<use href="#ast" x="115.17" y="67.92"/>
<use href="#ast" x="119.88" y="67.92"/>
<use href="#ast" x="68.09" y="89.11"/>
<use href="#ast" x="72.80" y="89.11"/>
<use href="#ast" x="77.50" y="89.11"/>
<use href="#ast" x="89.28" y="89.11"/>
<use href="#ast" x="93.98" y="89.11"/>
<use href="#ast" x="98.69" y="89.11"/>
<use href="#ast" x="110.47" y="89.11"/>
<use href="#ast" x="115.17" y="89.11"/>
<use href="#ast" x="119.88" y="89.11"/>
<use href="#ast" x="131.66" y="89.11"/>
<use href="#ast" x="136.37" y="89.11"/>
<use href="#ast" x="141.07" y="89.11"/>
<use href="#ast" x="68.09" y="110.30"/>
<use href="#ast" x="72.80" y="110.30"/>
<use href="#ast" x="77.50" y="110.30"/>
<use href="#ast" x="89.28" y="110.30"/>
<use href="#ast" x="93.98" y="110.30"/>
<use href="#ast" x="98.69" y="110.30"/>
<use href="#ast" x="110.47" y="110.30"/>
<use href="#ast" x="115.17" y="110.30"/>
<use href="#ast" x="119.88" y="110.30"/>
<use href="#ast" x="152.85" y="110.30"/>
<use href="#ast" x="157.56" y="110.30"/>
<use href="#ast" x="162.26" y="110.30"/>
<use href="#ast" x="89.28" y="131.49"/>
<use href="#ast" x="93.98" y="131.49"/>
<use href="#ast" x="98.69" y="131.49"/>
<use href="#ast" x="131.66" y="131.49"/>
<use href="#ast" x="136.37" y="131.49"/>
<use href="#ast" x="141.07" y="131.49"/>
<use href="#ast" x="174.04" y="131.49"/>
<use href="#ast" x="178.75" y="131.49"/>
<use href="#ast" x="183.45" y="131.49"/>
<use href="#ast" x="89.28" y="152.68"/>
<use href="#ast" x="93.98" y="152.68"/>
<use href="#ast" x="98.69" y="152.68"/>
<use href="#ast" x="131.66" y="152.68"/>
<use href="#ast" x="136.37" y="152.68"/>
<use href="#ast" x="141.07" y="152.68"/>
<use href="#ast" x="174.04" y="152.68"/>
<use href="#ast" x="178.75" y="152.68"/>
<use href="#ast" x="183.45" y="152.68"/>
<use href="#ast" x="195.23" y="152.68"/>
<use href="#ast" x="199.94" y="152.68"/>
<use href="#ast" x="204.64" y="152.68"/>
<use href="#ast" x="110.47" y="173.87"/>
<use href="#ast" x="115.17" y="173.87"/>
<use href="#ast" x="119.88" y="173.87"/>
<use href="#ast" x="152.85" y="173.87"/>
<use href="#ast" x="157.56" y="173.87"/>
<use href="#ast" x="162.26" y="173.87"/>
<use href="#ast" x="174.04" y="173.87"/>
<use href="#ast" x="178.75" y="173.87"/>
<use href="#ast" x="183.45" y="173.87"/>
<use href="#ast" x="197.58" y="173.87"/>
<use href="#ast" x="202.29" y="173.87"/>
<use href="#ast" x="218.77" y="173.87"/>
<use href="#ast" x="223.48" y="173.87"/>
<use href="#ast" x="93.98" y="195.06"/>
<use href="#ast" x="174.04" y="195.06"/>
<use href="#ast" x="178.75" y="195.06"/>
<use href="#ast" x="183.45" y="195.06"/>
<use href="#ast" x="195.23" y="195.06"/>
<use href="#ast" x="199.94" y="195.06"/>
<use href="#ast" x="204.64" y="195.06"/>
<use href="#ast" x="89.28" y="216.25"/>
<use href="#ast" x="93.98" y="216.25"/>
<use href="#ast" x="98.69" y="216.25"/>
<use href="#ast" x="134.01" y="216.25"/>
<use href="#ast" x="138.72" y="216.25"/>
<use href="#ast" x="195.23" y="216.25"/>
<use href="#ast" x="199.94" y="216.25"/>
<use href="#ast" x="204.64" y="216.25"/>
<use href="#ast" x="216.42" y="216.25"/>
<use href="#ast" x="221.12" y="216.25"/>
<use href="#ast" x="225.83" y="216.25"/>
<use href="#ast" x="239.96" y="216.25"/>
<use href="#ast" x="244.67" y="216.25"/>
<use href="#ast" x="258.80" y="216.25"/>
<use href="#ast" x="263.50" y="216.25"/>
<use href="#ast" x="268.21" y="216.25"/>
<use href="#ast" x="89.28" y="237.44"/>
<use href="#ast" x="93.98" y="237.44"/>
<use href="#ast" x="98.69" y="237.44"/>
<use href="#ast" x="112.82" y="237.44"/>
<use href="#ast" x="117.53" y="237.44"/>
<use href="#ast" x="131.66" y="237.44"/>
<use href="#ast" x="136.37" y="237.44"/>
<use href="#ast" x="141.07" y="237.44"/>
<use href="#ast" x="155.20" y="237.44"/>
<use href="#ast" x="159.91" y="237.44"/>
<use href="#ast" x="195.23" y="237.44"/>
<use href="#ast" x="199.94" y="237.44"/>
<use href="#ast" x="204.64" y="237.44"/>
<use href="#ast" x="216.42" y="237.44"/>
<use href="#ast" x="221.12" y="237.44"/>
<use href="#ast" x="225.83" y="237.44"/>
<use href="#ast" x="237.61" y="237.44"/>
<use href="#ast" x="242.31" y="237.44"/>
<use href="#ast" x="247.02" y="237.44"/>
<use href="#ast" x="279.99" y="237.44"/>
<use href="#ast" x="284.69" y="237.44"/>
<use href="#ast" x="289.40" y="237.44"/>
<use href="#ast" x="72.80" y="258.62"/>
<use href="#ast" x="89.28" y="258.62"/>
<use href="#ast" x="93.98" y="258.62"/>
<use href="#ast" x="98.69" y="258.62"/>
<use href="#ast" x="131.66" y="258.62"/>
<use href="#ast" x="136.37" y="258.62"/>
<use href="#ast" x="141.07" y="258.62"/>
<use href="#ast" x="174.04" y="258.62"/>
<use href="#ast" x="178.75" y="258.62"/>
<use href="#ast" x="183.45" y="258.62"/>
<use href="#ast" x="195.23" y="258.62"/>
<use href="#ast" x="199.94" y="258.62"/>
<use href="#ast" x="204.64" y="258.62"/>
<use href="#ast" x="216.42" y="258.62"/>
<use href="#ast" x="221.12" y="258.62"/>
<use href="#ast" x="225.83" y="258.62"/>
<use href="#ast" x="237.61" y="258.62"/>
<use href="#ast" x="242.31" y="258.62"/>
<use href="#ast" x="247.02" y="258.62"/>
<use href="#ast" x="282.34" y="258.62"/>
<use href="#ast" x="287.05" y="258.62"/>
<use href="#ast" x="303.53" y="258.62"/>
<use href="#ast" x="308.24" y="258.62"/>
<use href="#ast" x="91.63" y="279.81"/>
<use href="#ast" x="96.34" y="279.81"/>
<use href="#ast" x="134.01" y="279.81"/>
<use href="#ast" x="138.72" y="279.81"/>
<use href="#ast" x="174.04" y="279.81"/>
<use href="#ast" x="178.75" y="279.81"/>
<use href="#ast" x="183.45" y="279.81"/>
<use href="#ast" x="195.23" y="279.81"/>
<use href="#ast" x="199.94" y="279.81"/>
<use href="#ast" x="204.64" y="279.81"/>
<use href="#ast" x="216.42" y="279.81"/>
<use href="#ast" x="221.12" y="279.81"/>
<use href="#ast" x="225.83" y="279.81"/>
<use href="#ast" x="239.96" y="279.81"/>
<use href="#ast" x="244.67" y="279.81"/>
<use href="#ast" x="279.99" y="279.81"/>
<use href="#ast" x="284.69" y="279.81"/>
<use href="#ast" x="289.40" y="279.81"/>
<use href="#ast" x="303.53" y="279.81"/>
<use href="#ast" x="308.24" y="279.81"/>
<use href="#ast" x="322.37" y="279.81"/>
<use href="#ast" x="327.07" y="279.81"/>
<use href="#ast" x="331.78" y="279.81"/>
<use href="#ast" x="93.98" y="301.00"/>
<use href="#ast" x="136.37" y="301.00"/>
<use href="#ast" x="174.04" y="301.00"/>
<use href="#ast" x="178.75" y="301.00"/>
<use href="#ast" x="183.45" y="301.00"/>
<use href="#ast" x="195.23" y="301.00"/>
<use href="#ast" x="199.94" y="301.00"/>
<use href="#ast" x="204.64" y="301.00"/>
<use href="#ast" x="216.42" y="301.00"/>
<use href="#ast" x="221.12" y="301.00"/>
<use href="#ast" x="225.83" y="301.00"/>
<use href="#ast" x="237.61" y="301.00"/>
<use href="#ast" x="242.31" y="301.00"/>
<use href="#ast" x="247.02" y="301.00"/>
<use href="#ast" x="279.99" y="301.00"/>
<use href="#ast" x="284.69" y="301.00"/>
<use href="#ast" x="289.40" y="301.00"/>
<use href="#ast" x="301.18" y="301.00"/>
<use href="#ast" x="305.88" y="301.00"/>
<use href="#ast" x="310.59" y="301.00"/>
<use href="#ast" x="322.37" y="301.00"/>
<use href="#ast" x="327.07" y="301.00"/>
<use href="#ast" x="331.78" y="301.00"/>
<use href="#ast" x="343.56" y="301.00"/>
<use href="#ast" x="348.26" y="301.00"/>
<use href="#ast" x="352.97" y="301.00"/>
<use href="#ast" x="72.80" y="322.19"/>
<use href="#ast" x="89.28" y="322.19"/>
<use href="#ast" x="93.98" y="322.19"/>
<use href="#ast" x="98.69" y="322.19"/>
<use href="#ast" x="131.66" y="322.19"/>
<use href="#ast" x="136.37" y="322.19"/>
<use href="#ast" x="141.07" y="322.19"/>
<use href="#ast" x="174.04" y="322.19"/>
<use href="#ast" x="178.75" y="322.19"/>
<use href="#ast" x="183.45" y="322.19"/>
<use href="#ast" x="195.23" y="322.19"/>
<use href="#ast" x="199.94" y="322.19"/>
<use href="#ast" x="204.64" y="322.19"/>
<use href="#ast" x="216.42" y="322.19"/>
<use href="#ast" x="221.12" y="322.19"/>
<use href="#ast" x="225.83" y="322.19"/>
<use href="#ast" x="237.61" y="322.19"/>
<use href="#ast" x="242.31" y="322.19"/>
<use href="#ast" x="247.02" y="322.19"/>
<use href="#ast" x="322.37" y="322.19"/>
<use href="#ast" x="327.07" y="322.19"/>
<use href="#ast" x="331.78" y="322.19"/>
<use href="#ast" x="364.75" y="322.19"/>
<use href="#ast" x="369.45" y="322.19"/>
<use href="#ast" x="374.16" y="322.19"/>
<use href="#ast" x="70.44" y="343.38"/>
<use href="#ast" x="75.15" y="343.38"/>
<use href="#ast" x="91.63" y="343.38"/>
<use href="#ast" x="96.34" y="343.38"/>
<use href="#ast" x="134.01" y="343.38"/>
<use href="#ast" x="138.72" y="343.38"/>
<use href="#ast" x="322.37" y="343.38"/>
<use href="#ast" x="327.07" y="343.38"/>
<use href="#ast" x="331.78" y="343.38"/>
<use href="#ast" x="343.56" y="343.38"/>
<use href="#ast" x="348.26" y="343.38"/>
<use href="#ast" x="352.97" y="343.38"/>
<use href="#ast" x="364.75" y="343.38"/>
<use href="#ast" x="369.45" y="343.38"/>
<use href="#ast" x="374.16" y="343.38"/>
<use href="#ast" x="385.94" y="343.38"/>
<use href="#ast" x="390.64" y="343.38"/>
<use href="#ast" x="395.35" y="343.38"/>
<use href="#ast" x="195.23" y="364.58"/>
<use href="#ast" x="199.94" y="364.58"/>
<use href="#ast" x="204.64" y="364.58"/>
<use href="#ast" x="218.77" y="364.58"/>
<use href="#ast" x="223.48" y="364.58"/>
<use href="#ast" x="284.69" y="364.58"/>
<use href="#ast" x="305.88" y="364.58"/>
<use href="#ast" x="343.56" y="364.58"/>
<use href="#ast" x="348.26" y="364.58"/>
<use href="#ast" x="352.97" y="364.58"/>
<use href="#ast" x="364.75" y="364.58"/>
<use href="#ast" x="369.45" y="364.58"/>
<use href="#ast" x="374.16" y="364.58"/>
<use href="#ast" x="385.94" y="364.58"/>
<use href="#ast" x="390.64" y="364.58"/>
<use href="#ast" x="395.35" y="364.58"/>
<use href="#ast" x="407.13" y="364.58"/>
<use href="#ast" x="411.84" y="364.58"/>
<use href="#ast" x="416.54" y="364.58"/>
</g>
<g fill="#b8b8b8">
<circle cx="72.59" cy="4.34" r="3.3"/>
<circle cx="93.78" cy="25.54" r="3.3"/>
<circle cx="114.97" cy="46.73" r="3.3"/>
<circle cx="136.17" cy="67.92" r="3.3"/>
<circle cx="157.36" cy="89.11" r="3.3"/>
<circle cx="178.55" cy="110.30" r="3.3"/>
<circle cx="199.74" cy="131.49" r="3.3"/>
<circle cx="220.93" cy="152.68" r="3.3"/>
<circle cx="242.12" cy="173.87" r="3.3"/>
<circle cx="263.31" cy="195.06" r="3.3"/>
<circle cx="284.50" cy="216.25" r="3.3"/>
<circle cx="305.69" cy="237.44" r="3.3"/>
<circle cx="326.88" cy="258.62" r="3.3"/>
<circle cx="348.06" cy="279.81" r="3.3"/>
<circle cx="369.25" cy="301.00" r="3.3"/>
<circle cx="390.44" cy="322.19" r="3.3"/>
<circle cx="411.64" cy="343.38" r="3.3"/>
<circle cx="432.83" cy="364.58" r="3.3"/>
</g>
<g fill="#a6a6a6" stroke="#111" stroke-width="1.25">
<circle cx="348.10" cy="31.80" r="2.55"/>
<circle cx="418.10" cy="108.00" r="2.55"/>
<circle cx="488.10" cy="184.20" r="2.55"/>
<circle cx="558.10" cy="260.40" r="2.55"/>
</g>
<g font-size="11.5" fill="#0d0d0d" stroke="#0d0d0d" stroke-width="0.15" text-anchor="end">
<text x="54.0" y="8.14">LC</text>
<text x="54.0" y="29.34">LN</text>
<text x="54.0" y="50.52">LP</text>
<text x="54.0" y="71.72">LC:LN</text>
<text x="54.0" y="92.91">LC:LP</text>
<text x="54.0" y="114.09">LN:LP</text>
<text x="54.0" y="135.29">SC</text>
<text x="54.0" y="156.48">SN</text>
<text x="54.0" y="177.67">SP</text>
<text x="54.0" y="198.86">SC:SN</text>
<text x="54.0" y="220.05">SC:SP</text>
<text x="54.0" y="241.24">SN:SP</text>
<text x="54.0" y="262.43">MBC</text>
<text x="54.0" y="283.62">MBN</text>
<text x="54.0" y="304.81">MBP</text>
<text x="54.0" y="326.00">MBC:MBN</text>
<text x="54.0" y="347.19">MBC:MBP</text>
<text x="54.0" y="368.38">MBN:MBP</text>
</g>
<g font-size="11.5" fill="#0d0d0d" stroke="#0d0d0d" stroke-width="0.15" text-anchor="end">
<text transform="translate(76.80,383.27) rotate(-90)">LC</text>
<text transform="translate(97.98,383.27) rotate(-90)">LN</text>
<text transform="translate(119.17,383.27) rotate(-90)">LP</text>
<text transform="translate(140.37,383.27) rotate(-90)">LC:LN</text>
<text transform="translate(161.56,383.27) rotate(-90)">LC:LP</text>
<text transform="translate(182.75,383.27) rotate(-90)">LN:LP</text>
<text transform="translate(203.94,383.27) rotate(-90)">SC</text>
<text transform="translate(225.12,383.27) rotate(-90)">SN</text>
<text transform="translate(246.31,383.27) rotate(-90)">SP</text>
<text transform="translate(267.50,383.27) rotate(-90)">SC:SN</text>
<text transform="translate(288.69,383.27) rotate(-90)">SC:SP</text>
<text transform="translate(309.88,383.27) rotate(-90)">SN:SP</text>
<text transform="translate(331.07,383.27) rotate(-90)">MBC</text>
<text transform="translate(352.26,383.27) rotate(-90)">MBN</text>
<text transform="translate(373.45,383.27) rotate(-90)">MBP</text>
<text transform="translate(394.64,383.27) rotate(-90)">MBC:MBN</text>
<text transform="translate(415.84,383.27) rotate(-90)">MBC:MBP</text>
<text transform="translate(437.03,383.27) rotate(-90)">MBN:MBP</text>
</g>
<g fill="none" stroke-linecap="butt">
<path d="M72.59,451.30Q213.06,438.08 348.20,478.60" stroke="#d9d9d9" stroke-width="1.9"/>
<path d="M93.78,472.50Q221.59,450.74 348.20,478.60" stroke="#d9d9d9" stroke-width="1.9"/>
<path d="M114.97,493.69Q230.12,463.40 348.20,478.60" stroke="#d9d9d9" stroke-width="1.9"/>
<path d="M136.17,514.88Q238.65,476.06 348.20,478.60" stroke="#d9d9d9" stroke-width="1.9"/>
<path d="M157.36,536.06Q247.17,488.73 348.20,478.60" stroke="#d9d9d9" stroke-width="1.9"/>
<path d="M178.55,557.25Q255.70,501.39 348.20,478.60" stroke="#d9d9d9" stroke-width="1.9"/>
<path d="M199.74,578.44Q264.23,514.05 348.20,478.60" stroke="#d9d9d9" stroke-width="1.9"/>
<path d="M220.93,599.63Q272.76,526.71 348.20,478.60" stroke="#d9d9d9" stroke-width="1.9"/>
<path d="M242.12,620.83Q281.29,539.37 348.20,478.60" stroke="#d9d9d9" stroke-width="1.9"/>
<path d="M263.31,642.01Q289.82,552.03 348.20,478.60" stroke="#d9d9d9" stroke-width="1.9"/>
<path d="M284.50,663.20Q334.35,577.11 348.20,478.60" stroke="#d9d9d9" stroke-width="1.9"/>
<path d="M305.69,684.39Q347.01,585.64 348.20,478.60" stroke="#d9d9d9" stroke-width="1.9"/>
<path d="M326.88,705.59Q359.67,594.17 348.20,478.60" stroke="#d9d9d9" stroke-width="1.9"/>
<path d="M348.06,726.77Q372.33,602.70 348.20,478.60" stroke="#d9d9d9" stroke-width="1.9"/>
<path d="M369.25,747.96Q384.99,611.23 348.20,478.60" stroke="#d9d9d9" stroke-width="1.9"/>
<path d="M390.44,769.15Q397.65,619.76 348.20,478.60" stroke="#d9d9d9" stroke-width="1.9"/>
<path d="M411.64,790.35Q410.31,628.29 348.20,478.60" stroke="#d9d9d9" stroke-width="1.9"/>
<path d="M72.59,451.30Q234.26,453.74 383.17,516.73" stroke="#d9d9d9" stroke-width="1.9"/>
<path d="M93.78,472.50Q242.79,466.40 383.17,516.73" stroke="#d9d9d9" stroke-width="1.9"/>
<path d="M136.17,514.88Q259.85,491.72 383.17,516.73" stroke="#d9d9d9" stroke-width="1.9"/>
<path d="M178.55,557.25Q276.91,517.04 383.17,516.73" stroke="#d9d9d9" stroke-width="1.9"/>
<path d="M263.31,642.01Q311.02,567.69 383.17,516.73" stroke="#d9d9d9" stroke-width="1.9"/>
<path d="M284.50,663.20Q348.11,599.59 383.17,516.73" stroke="#d9d9d9" stroke-width="1.9"/>
<path d="M305.69,684.39Q360.77,608.12 383.17,516.73" stroke="#d9d9d9" stroke-width="1.9"/>
<path d="M326.88,705.59Q373.44,616.65 383.17,516.73" stroke="#d9d9d9" stroke-width="1.9"/>
<path d="M369.25,747.96Q398.76,633.70 383.17,516.73" stroke="#d9d9d9" stroke-width="1.9"/>
<path d="M390.44,769.15Q411.42,642.23 383.17,516.73" stroke="#d9d9d9" stroke-width="1.9"/>
<path d="M411.64,790.35Q424.08,650.76 383.17,516.73" stroke="#d9d9d9" stroke-width="1.9"/>
<path d="M72.59,451.30Q255.46,469.39 418.14,554.86" stroke="#d9d9d9" stroke-width="1.9"/>
<path d="M93.78,472.50Q263.99,482.05 418.14,554.86" stroke="#d9d9d9" stroke-width="1.9"/>
<path d="M114.97,493.69Q272.52,494.71 418.14,554.86" stroke="#d9d9d9" stroke-width="1.9"/>
<path d="M136.17,514.88Q281.05,507.37 418.14,554.86" stroke="#d9d9d9" stroke-width="1.9"/>
<path d="M157.36,536.06Q289.58,520.04 418.14,554.86" stroke="#d9d9d9" stroke-width="1.9"/>
<path d="M178.55,557.25Q298.11,532.70 418.14,554.86" stroke="#d9d9d9" stroke-width="1.9"/>
<path d="M199.74,578.44Q306.64,545.36 418.14,554.86" stroke="#d9d9d9" stroke-width="1.9"/>
<path d="M220.93,599.63Q315.17,558.02 418.14,554.86" stroke="#d9d9d9" stroke-width="1.9"/>
<path d="M242.12,620.83Q323.70,570.68 418.14,554.86" stroke="#d9d9d9" stroke-width="1.9"/>
<path d="M263.31,642.01Q332.22,583.34 418.14,554.86" stroke="#d9d9d9" stroke-width="1.9"/>
<path d="M284.50,663.20Q361.88,622.06 418.14,554.86" stroke="#d9d9d9" stroke-width="1.9"/>
<path d="M305.69,684.39Q374.54,630.59 418.14,554.86" stroke="#d9d9d9" stroke-width="1.9"/>
<path d="M326.88,705.59Q387.20,639.12 418.14,554.86" stroke="#d9d9d9" stroke-width="1.9"/>
<path d="M348.06,726.77Q399.86,647.65 418.14,554.86" stroke="#d9d9d9" stroke-width="1.9"/>
<path d="M369.25,747.96Q412.53,656.18 418.14,554.86" stroke="#d9d9d9" stroke-width="1.9"/>
<path d="M390.44,769.15Q425.19,664.71 418.14,554.86" stroke="#d9d9d9" stroke-width="1.9"/>
<path d="M411.64,790.35Q437.85,673.24 418.14,554.86" stroke="#d9d9d9" stroke-width="1.9"/>
<path d="M72.59,451.30Q276.67,485.05 453.11,592.99" stroke="#d9d9d9" stroke-width="1.9"/>
<path d="M93.78,472.50Q285.20,497.71 453.11,592.99" stroke="#d9d9d9" stroke-width="1.9"/>
<path d="M136.17,514.88Q302.25,523.03 453.11,592.99" stroke="#d9d9d9" stroke-width="1.9"/>
<path d="M178.55,557.25Q319.31,548.35 453.11,592.99" stroke="#d9d9d9" stroke-width="1.9"/>
<path d="M348.06,726.77Q413.63,670.12 453.11,592.99" stroke="#d9d9d9" stroke-width="1.9"/>
<path d="M369.25,747.96Q426.29,678.65 453.11,592.99" stroke="#d9d9d9" stroke-width="1.9"/>
<path d="M390.44,769.15Q438.95,687.18 453.11,592.99" stroke="#d9d9d9" stroke-width="1.9"/>
<path d="M411.64,790.35Q451.61,695.71 453.11,592.99" stroke="#d9d9d9" stroke-width="1.9"/>
<path d="M432.83,811.54Q464.28,704.24 453.11,592.99" stroke="#d9d9d9" stroke-width="1.9"/>
<path d="M72.59,451.30Q297.87,500.70 488.08,631.12" stroke="#d9d9d9" stroke-width="1.9"/>
<path d="M93.78,472.50Q306.40,513.36 488.08,631.12" stroke="#d9d9d9" stroke-width="1.9"/>
<path d="M136.17,514.88Q323.46,538.69 488.08,631.12" stroke="#d9d9d9" stroke-width="1.9"/>
<path d="M178.55,557.25Q340.51,564.01 488.08,631.12" stroke="#d9d9d9" stroke-width="1.9"/>
<path d="M326.88,705.59Q414.74,684.07 488.08,631.12" stroke="#d9d9d9" stroke-width="1.9"/>
<path d="M369.25,747.96Q440.06,701.13 488.08,631.12" stroke="#d9d9d9" stroke-width="1.9"/>
<path d="M390.44,769.15Q452.72,709.66 488.08,631.12" stroke="#d9d9d9" stroke-width="1.9"/>
<path d="M411.64,790.35Q465.38,718.19 488.08,631.12" stroke="#d9d9d9" stroke-width="1.9"/>
<path d="M432.83,811.54Q478.04,726.71 488.08,631.12" stroke="#d9d9d9" stroke-width="1.9"/>
<path d="M72.59,451.30Q319.07,516.36 523.05,669.25" stroke="#d9d9d9" stroke-width="1.9"/>
<path d="M93.78,472.50Q327.60,529.02 523.05,669.25" stroke="#d9d9d9" stroke-width="1.9"/>
<path d="M136.17,514.88Q344.66,554.34 523.05,669.25" stroke="#d9d9d9" stroke-width="1.9"/>
<path d="M199.74,578.44Q370.25,592.32 523.05,669.25" stroke="#d9d9d9" stroke-width="1.9"/>
<path d="M220.93,599.63Q378.77,604.99 523.05,669.25" stroke="#d9d9d9" stroke-width="1.9"/>
<path d="M348.06,726.77Q441.17,715.07 523.05,669.25" stroke="#d9d9d9" stroke-width="1.9"/>
<path d="M369.25,747.96Q453.83,723.60 523.05,669.25" stroke="#d9d9d9" stroke-width="1.9"/>
<path d="M390.44,769.15Q466.49,732.13 523.05,669.25" stroke="#d9d9d9" stroke-width="1.9"/>
<path d="M411.64,790.35Q479.15,740.66 523.05,669.25" stroke="#d9d9d9" stroke-width="1.9"/>
<path d="M432.83,811.54Q491.81,749.19 523.05,669.25" stroke="#d9d9d9" stroke-width="1.9"/>
<path d="M72.59,451.30Q340.27,532.01 558.02,707.38" stroke="#d9d9d9" stroke-width="1.9"/>
<path d="M93.78,472.50Q348.80,544.67 558.02,707.38" stroke="#d9d9d9" stroke-width="1.9"/>
<path d="M136.17,514.88Q365.86,570.00 558.02,707.38" stroke="#d9d9d9" stroke-width="1.9"/>
<path d="M178.55,557.25Q382.92,595.32 558.02,707.38" stroke="#d9d9d9" stroke-width="1.9"/>
<path d="M199.74,578.44Q391.45,607.98 558.02,707.38" stroke="#d9d9d9" stroke-width="1.9"/>
<path d="M220.93,599.63Q399.98,620.64 558.02,707.38" stroke="#d9d9d9" stroke-width="1.9"/>
<path d="M242.12,620.83Q408.51,633.30 558.02,707.38" stroke="#d9d9d9" stroke-width="1.9"/>
<path d="M284.50,663.20Q416.95,711.96 558.02,707.38" stroke="#d9d9d9" stroke-width="1.9"/>
<path d="M326.88,705.59Q442.27,729.02 558.02,707.38" stroke="#d9d9d9" stroke-width="1.9"/>
<path d="M348.06,726.77Q454.93,737.55 558.02,707.38" stroke="#d9d9d9" stroke-width="1.9"/>
<path d="M369.25,747.96Q467.59,746.08 558.02,707.38" stroke="#d9d9d9" stroke-width="1.9"/>
<path d="M390.44,769.15Q480.26,754.61 558.02,707.38" stroke="#d9d9d9" stroke-width="1.9"/>
<path d="M411.64,790.35Q492.92,763.14 558.02,707.38" stroke="#d9d9d9" stroke-width="1.9"/>
<path d="M432.83,811.54Q505.58,771.66 558.02,707.38" stroke="#d9d9d9" stroke-width="1.9"/>
<path d="M432.83,811.54Q422.97,636.82 348.20,478.60" stroke="#635b84" stroke-width="1.9"/>
<path d="M114.97,493.69Q251.32,479.06 383.17,516.73" stroke="#635b84" stroke-width="1.9"/>
<path d="M157.36,536.06Q268.38,504.38 383.17,516.73" stroke="#635b84" stroke-width="1.9"/>
<path d="M242.12,620.83Q302.49,555.02 383.17,516.73" stroke="#635b84" stroke-width="1.9"/>
<path d="M348.06,726.77Q386.10,625.18 383.17,516.73" stroke="#a09f55" stroke-width="1.9"/>
<path d="M432.83,811.54Q436.74,659.29 383.17,516.73" stroke="#a09f55" stroke-width="1.9"/>
<path d="M432.83,811.54Q450.51,681.77 418.14,554.86" stroke="#635b84" stroke-width="1.9"/>
<path d="M114.97,493.69Q293.72,510.37 453.11,592.99" stroke="#635b84" stroke-width="1.9"/>
<path d="M157.36,536.06Q310.78,535.69 453.11,592.99" stroke="#635b84" stroke-width="1.9"/>
<path d="M199.74,578.44Q327.84,561.01 453.11,592.99" stroke="#a09f55" stroke-width="1.9"/>
<path d="M220.93,599.63Q336.37,573.67 453.11,592.99" stroke="#609347" stroke-width="1.9"/>
<path d="M242.12,620.83Q344.90,586.34 453.11,592.99" stroke="#609347" stroke-width="1.9"/>
<path d="M263.31,642.01Q353.43,599.00 453.11,592.99" stroke="#609347" stroke-width="1.9"/>
<path d="M326.88,705.59Q400.97,661.60 453.11,592.99" stroke="#609347" stroke-width="1.9"/>
<path d="M114.97,493.69Q314.93,526.02 488.08,631.12" stroke="#635b84" stroke-width="1.9"/>
<path d="M157.36,536.06Q331.99,551.35 488.08,631.12" stroke="#a09f55" stroke-width="1.9"/>
<path d="M199.74,578.44Q349.04,576.67 488.08,631.12" stroke="#635b84" stroke-width="1.9"/>
<path d="M220.93,599.63Q357.57,589.33 488.08,631.12" stroke="#609347" stroke-width="1.9"/>
<path d="M242.12,620.83Q366.10,601.99 488.08,631.12" stroke="#609347" stroke-width="1.9"/>
<path d="M263.31,642.01Q374.63,614.65 488.08,631.12" stroke="#609347" stroke-width="1.9"/>
<path d="M348.06,726.77Q427.40,692.60 488.08,631.12" stroke="#a09f55" stroke-width="1.9"/>
<path d="M114.97,493.69Q336.13,541.68 523.05,669.25" stroke="#635b84" stroke-width="1.9"/>
<path d="M157.36,536.06Q353.19,567.00 523.05,669.25" stroke="#635b84" stroke-width="1.9"/>
<path d="M178.55,557.25Q361.72,579.66 523.05,669.25" stroke="#a09f55" stroke-width="1.9"/>
<path d="M242.12,620.83Q387.30,617.65 523.05,669.25" stroke="#635b84" stroke-width="1.9"/>
<path d="M263.31,642.01Q395.83,630.31 523.05,669.25" stroke="#609347" stroke-width="1.9"/>
<path d="M284.50,663.20Q403.18,689.49 523.05,669.25" stroke="#609347" stroke-width="1.9"/>
<path d="M305.69,684.39Q415.84,698.02 523.05,669.25" stroke="#609347" stroke-width="1.9"/>
<path d="M326.88,705.59Q428.51,706.54 523.05,669.25" stroke="#635b84" stroke-width="1.9"/>
<path d="M114.97,493.69Q357.33,557.34 558.02,707.38" stroke="#635b84" stroke-width="1.9"/>
<path d="M157.36,536.06Q374.39,582.66 558.02,707.38" stroke="#635b84" stroke-width="1.9"/>
<path d="M263.31,642.01Q417.04,645.96 558.02,707.38" stroke="#635b84" stroke-width="1.9"/>
<path d="M305.69,684.39Q429.61,720.49 558.02,707.38" stroke="#635b84" stroke-width="1.9"/>
<path d="M199.74,578.44Q285.44,529.70 383.17,516.73" stroke="#609347" stroke-width="3.6"/>
<path d="M220.93,599.63Q293.96,542.36 383.17,516.73" stroke="#609347" stroke-width="3.6"/>
<path d="M284.50,663.20Q375.65,644.54 453.11,592.99" stroke="#609347" stroke-width="3.6"/>
<path d="M305.69,684.39Q388.31,653.07 453.11,592.99" stroke="#609347" stroke-width="3.6"/>
<path d="M284.50,663.20Q389.42,667.01 488.08,631.12" stroke="#609347" stroke-width="3.6"/>
<path d="M305.69,684.39Q402.08,675.54 488.08,631.12" stroke="#609347" stroke-width="3.6"/>
</g>
<g>
<rect x="62.00" y="461.90" width="21.19" height="21.19" fill="#fff" stroke="#8f8f8f" stroke-width="0.95"/>
<rect x="62.00" y="483.09" width="21.19" height="21.19" fill="#fff" stroke="#8f8f8f" stroke-width="0.95"/>
<rect x="83.19" y="483.09" width="21.19" height="21.19" fill="#fff" stroke="#8f8f8f" stroke-width="0.95"/>
<rect x="62.00" y="504.28" width="21.19" height="21.19" fill="#fff" stroke="#8f8f8f" stroke-width="0.95"/>
<rect x="83.19" y="504.28" width="21.19" height="21.19" fill="#fff" stroke="#8f8f8f" stroke-width="0.95"/>
<rect x="104.38" y="504.28" width="21.19" height="21.19" fill="#fff" stroke="#8f8f8f" stroke-width="0.95"/>
<rect x="62.00" y="525.47" width="21.19" height="21.19" fill="#fff" stroke="#8f8f8f" stroke-width="0.95"/>
<rect x="83.19" y="525.47" width="21.19" height="21.19" fill="#fff" stroke="#8f8f8f" stroke-width="0.95"/>
<rect x="104.38" y="525.47" width="21.19" height="21.19" fill="#fff" stroke="#8f8f8f" stroke-width="0.95"/>
<rect x="125.57" y="525.47" width="21.19" height="21.19" fill="#fff" stroke="#8f8f8f" stroke-width="0.95"/>
<rect x="62.00" y="546.66" width="21.19" height="21.19" fill="#fff" stroke="#8f8f8f" stroke-width="0.95"/>
<rect x="83.19" y="546.66" width="21.19" height="21.19" fill="#fff" stroke="#8f8f8f" stroke-width="0.95"/>
<rect x="104.38" y="546.66" width="21.19" height="21.19" fill="#fff" stroke="#8f8f8f" stroke-width="0.95"/>
<rect x="125.57" y="546.66" width="21.19" height="21.19" fill="#fff" stroke="#8f8f8f" stroke-width="0.95"/>
<rect x="146.76" y="546.66" width="21.19" height="21.19" fill="#fff" stroke="#8f8f8f" stroke-width="0.95"/>
<rect x="62.00" y="567.85" width="21.19" height="21.19" fill="#fff" stroke="#8f8f8f" stroke-width="0.95"/>
<rect x="83.19" y="567.85" width="21.19" height="21.19" fill="#fff" stroke="#8f8f8f" stroke-width="0.95"/>
<rect x="104.38" y="567.85" width="21.19" height="21.19" fill="#fff" stroke="#8f8f8f" stroke-width="0.95"/>
<rect x="125.57" y="567.85" width="21.19" height="21.19" fill="#fff" stroke="#8f8f8f" stroke-width="0.95"/>
<rect x="146.76" y="567.85" width="21.19" height="21.19" fill="#fff" stroke="#8f8f8f" stroke-width="0.95"/>
<rect x="167.95" y="567.85" width="21.19" height="21.19" fill="#fff" stroke="#8f8f8f" stroke-width="0.95"/>
<rect x="62.00" y="589.04" width="21.19" height="21.19" fill="#fff" stroke="#8f8f8f" stroke-width="0.95"/>
<rect x="83.19" y="589.04" width="21.19" height="21.19" fill="#fff" stroke="#8f8f8f" stroke-width="0.95"/>
<rect x="104.38" y="589.04" width="21.19" height="21.19" fill="#fff" stroke="#8f8f8f" stroke-width="0.95"/>
<rect x="125.57" y="589.04" width="21.19" height="21.19" fill="#fff" stroke="#8f8f8f" stroke-width="0.95"/>
<rect x="146.76" y="589.04" width="21.19" height="21.19" fill="#fff" stroke="#8f8f8f" stroke-width="0.95"/>
<rect x="167.95" y="589.04" width="21.19" height="21.19" fill="#fff" stroke="#8f8f8f" stroke-width="0.95"/>
<rect x="189.14" y="589.04" width="21.19" height="21.19" fill="#fff" stroke="#8f8f8f" stroke-width="0.95"/>
<rect x="62.00" y="610.23" width="21.19" height="21.19" fill="#fff" stroke="#8f8f8f" stroke-width="0.95"/>
<rect x="83.19" y="610.23" width="21.19" height="21.19" fill="#fff" stroke="#8f8f8f" stroke-width="0.95"/>
<rect x="104.38" y="610.23" width="21.19" height="21.19" fill="#fff" stroke="#8f8f8f" stroke-width="0.95"/>
<rect x="125.57" y="610.23" width="21.19" height="21.19" fill="#fff" stroke="#8f8f8f" stroke-width="0.95"/>
<rect x="146.76" y="610.23" width="21.19" height="21.19" fill="#fff" stroke="#8f8f8f" stroke-width="0.95"/>
<rect x="167.95" y="610.23" width="21.19" height="21.19" fill="#fff" stroke="#8f8f8f" stroke-width="0.95"/>
<rect x="189.14" y="610.23" width="21.19" height="21.19" fill="#fff" stroke="#8f8f8f" stroke-width="0.95"/>
<rect x="210.33" y="610.23" width="21.19" height="21.19" fill="#fff" stroke="#8f8f8f" stroke-width="0.95"/>
<rect x="62.00" y="631.42" width="21.19" height="21.19" fill="#fff" stroke="#8f8f8f" stroke-width="0.95"/>
<rect x="83.19" y="631.42" width="21.19" height="21.19" fill="#fff" stroke="#8f8f8f" stroke-width="0.95"/>
<rect x="104.38" y="631.42" width="21.19" height="21.19" fill="#fff" stroke="#8f8f8f" stroke-width="0.95"/>
<rect x="125.57" y="631.42" width="21.19" height="21.19" fill="#fff" stroke="#8f8f8f" stroke-width="0.95"/>
<rect x="146.76" y="631.42" width="21.19" height="21.19" fill="#fff" stroke="#8f8f8f" stroke-width="0.95"/>
<rect x="167.95" y="631.42" width="21.19" height="21.19" fill="#fff" stroke="#8f8f8f" stroke-width="0.95"/>
<rect x="189.14" y="631.42" width="21.19" height="21.19" fill="#fff" stroke="#8f8f8f" stroke-width="0.95"/>
<rect x="210.33" y="631.42" width="21.19" height="21.19" fill="#fff" stroke="#8f8f8f" stroke-width="0.95"/>
<rect x="231.52" y="631.42" width="21.19" height="21.19" fill="#fff" stroke="#8f8f8f" stroke-width="0.95"/>
<rect x="62.00" y="652.61" width="21.19" height="21.19" fill="#fff" stroke="#8f8f8f" stroke-width="0.95"/>
<rect x="83.19" y="652.61" width="21.19" height="21.19" fill="#fff" stroke="#8f8f8f" stroke-width="0.95"/>
<rect x="104.38" y="652.61" width="21.19" height="21.19" fill="#fff" stroke="#8f8f8f" stroke-width="0.95"/>
<rect x="125.57" y="652.61" width="21.19" height="21.19" fill="#fff" stroke="#8f8f8f" stroke-width="0.95"/>
<rect x="146.76" y="652.61" width="21.19" height="21.19" fill="#fff" stroke="#8f8f8f" stroke-width="0.95"/>
<rect x="167.95" y="652.61" width="21.19" height="21.19" fill="#fff" stroke="#8f8f8f" stroke-width="0.95"/>
<rect x="189.14" y="652.61" width="21.19" height="21.19" fill="#fff" stroke="#8f8f8f" stroke-width="0.95"/>
<rect x="210.33" y="652.61" width="21.19" height="21.19" fill="#fff" stroke="#8f8f8f" stroke-width="0.95"/>
<rect x="231.52" y="652.61" width="21.19" height="21.19" fill="#fff" stroke="#8f8f8f" stroke-width="0.95"/>
<rect x="252.71" y="652.61" width="21.19" height="21.19" fill="#fff" stroke="#8f8f8f" stroke-width="0.95"/>
<rect x="62.00" y="673.80" width="21.19" height="21.19" fill="#fff" stroke="#8f8f8f" stroke-width="0.95"/>
<rect x="83.19" y="673.80" width="21.19" height="21.19" fill="#fff" stroke="#8f8f8f" stroke-width="0.95"/>
<rect x="104.38" y="673.80" width="21.19" height="21.19" fill="#fff" stroke="#8f8f8f" stroke-width="0.95"/>
<rect x="125.57" y="673.80" width="21.19" height="21.19" fill="#fff" stroke="#8f8f8f" stroke-width="0.95"/>
<rect x="146.76" y="673.80" width="21.19" height="21.19" fill="#fff" stroke="#8f8f8f" stroke-width="0.95"/>
<rect x="167.95" y="673.80" width="21.19" height="21.19" fill="#fff" stroke="#8f8f8f" stroke-width="0.95"/>
<rect x="189.14" y="673.80" width="21.19" height="21.19" fill="#fff" stroke="#8f8f8f" stroke-width="0.95"/>
<rect x="210.33" y="673.80" width="21.19" height="21.19" fill="#fff" stroke="#8f8f8f" stroke-width="0.95"/>
<rect x="231.52" y="673.80" width="21.19" height="21.19" fill="#fff" stroke="#8f8f8f" stroke-width="0.95"/>
<rect x="252.71" y="673.80" width="21.19" height="21.19" fill="#fff" stroke="#8f8f8f" stroke-width="0.95"/>
<rect x="273.90" y="673.80" width="21.19" height="21.19" fill="#fff" stroke="#8f8f8f" stroke-width="0.95"/>
<rect x="62.00" y="694.99" width="21.19" height="21.19" fill="#fff" stroke="#8f8f8f" stroke-width="0.95"/>
<rect x="83.19" y="694.99" width="21.19" height="21.19" fill="#fff" stroke="#8f8f8f" stroke-width="0.95"/>
<rect x="104.38" y="694.99" width="21.19" height="21.19" fill="#fff" stroke="#8f8f8f" stroke-width="0.95"/>
<rect x="125.57" y="694.99" width="21.19" height="21.19" fill="#fff" stroke="#8f8f8f" stroke-width="0.95"/>
<rect x="146.76" y="694.99" width="21.19" height="21.19" fill="#fff" stroke="#8f8f8f" stroke-width="0.95"/>
<rect x="167.95" y="694.99" width="21.19" height="21.19" fill="#fff" stroke="#8f8f8f" stroke-width="0.95"/>
<rect x="189.14" y="694.99" width="21.19" height="21.19" fill="#fff" stroke="#8f8f8f" stroke-width="0.95"/>
<rect x="210.33" y="694.99" width="21.19" height="21.19" fill="#fff" stroke="#8f8f8f" stroke-width="0.95"/>
<rect x="231.52" y="694.99" width="21.19" height="21.19" fill="#fff" stroke="#8f8f8f" stroke-width="0.95"/>
<rect x="252.71" y="694.99" width="21.19" height="21.19" fill="#fff" stroke="#8f8f8f" stroke-width="0.95"/>
<rect x="273.90" y="694.99" width="21.19" height="21.19" fill="#fff" stroke="#8f8f8f" stroke-width="0.95"/>
<rect x="295.09" y="694.99" width="21.19" height="21.19" fill="#fff" stroke="#8f8f8f" stroke-width="0.95"/>
<rect x="62.00" y="716.18" width="21.19" height="21.19" fill="#fff" stroke="#8f8f8f" stroke-width="0.95"/>
<rect x="83.19" y="716.18" width="21.19" height="21.19" fill="#fff" stroke="#8f8f8f" stroke-width="0.95"/>
<rect x="104.38" y="716.18" width="21.19" height="21.19" fill="#fff" stroke="#8f8f8f" stroke-width="0.95"/>
<rect x="125.57" y="716.18" width="21.19" height="21.19" fill="#fff" stroke="#8f8f8f" stroke-width="0.95"/>
<rect x="146.76" y="716.18" width="21.19" height="21.19" fill="#fff" stroke="#8f8f8f" stroke-width="0.95"/>
<rect x="167.95" y="716.18" width="21.19" height="21.19" fill="#fff" stroke="#8f8f8f" stroke-width="0.95"/>
<rect x="189.14" y="716.18" width="21.19" height="21.19" fill="#fff" stroke="#8f8f8f" stroke-width="0.95"/>
<rect x="210.33" y="716.18" width="21.19" height="21.19" fill="#fff" stroke="#8f8f8f" stroke-width="0.95"/>
<rect x="231.52" y="716.18" width="21.19" height="21.19" fill="#fff" stroke="#8f8f8f" stroke-width="0.95"/>
<rect x="252.71" y="716.18" width="21.19" height="21.19" fill="#fff" stroke="#8f8f8f" stroke-width="0.95"/>
<rect x="273.90" y="716.18" width="21.19" height="21.19" fill="#fff" stroke="#8f8f8f" stroke-width="0.95"/>
<rect x="295.09" y="716.18" width="21.19" height="21.19" fill="#fff" stroke="#8f8f8f" stroke-width="0.95"/>
<rect x="316.28" y="716.18" width="21.19" height="21.19" fill="#fff" stroke="#8f8f8f" stroke-width="0.95"/>
<rect x="62.00" y="737.37" width="21.19" height="21.19" fill="#fff" stroke="#8f8f8f" stroke-width="0.95"/>
<rect x="83.19" y="737.37" width="21.19" height="21.19" fill="#fff" stroke="#8f8f8f" stroke-width="0.95"/>
<rect x="104.38" y="737.37" width="21.19" height="21.19" fill="#fff" stroke="#8f8f8f" stroke-width="0.95"/>
<rect x="125.57" y="737.37" width="21.19" height="21.19" fill="#fff" stroke="#8f8f8f" stroke-width="0.95"/>
<rect x="146.76" y="737.37" width="21.19" height="21.19" fill="#fff" stroke="#8f8f8f" stroke-width="0.95"/>
<rect x="167.95" y="737.37" width="21.19" height="21.19" fill="#fff" stroke="#8f8f8f" stroke-width="0.95"/>
<rect x="189.14" y="737.37" width="21.19" height="21.19" fill="#fff" stroke="#8f8f8f" stroke-width="0.95"/>
<rect x="210.33" y="737.37" width="21.19" height="21.19" fill="#fff" stroke="#8f8f8f" stroke-width="0.95"/>
<rect x="231.52" y="737.37" width="21.19" height="21.19" fill="#fff" stroke="#8f8f8f" stroke-width="0.95"/>
<rect x="252.71" y="737.37" width="21.19" height="21.19" fill="#fff" stroke="#8f8f8f" stroke-width="0.95"/>
<rect x="273.90" y="737.37" width="21.19" height="21.19" fill="#fff" stroke="#8f8f8f" stroke-width="0.95"/>
<rect x="295.09" y="737.37" width="21.19" height="21.19" fill="#fff" stroke="#8f8f8f" stroke-width="0.95"/>
<rect x="316.28" y="737.37" width="21.19" height="21.19" fill="#fff" stroke="#8f8f8f" stroke-width="0.95"/>
<rect x="337.47" y="737.37" width="21.19" height="21.19" fill="#fff" stroke="#8f8f8f" stroke-width="0.95"/>
<rect x="62.00" y="758.56" width="21.19" height="21.19" fill="#fff" stroke="#8f8f8f" stroke-width="0.95"/>
<rect x="83.19" y="758.56" width="21.19" height="21.19" fill="#fff" stroke="#8f8f8f" stroke-width="0.95"/>
<rect x="104.38" y="758.56" width="21.19" height="21.19" fill="#fff" stroke="#8f8f8f" stroke-width="0.95"/>
<rect x="125.57" y="758.56" width="21.19" height="21.19" fill="#fff" stroke="#8f8f8f" stroke-width="0.95"/>
<rect x="146.76" y="758.56" width="21.19" height="21.19" fill="#fff" stroke="#8f8f8f" stroke-width="0.95"/>
<rect x="167.95" y="758.56" width="21.19" height="21.19" fill="#fff" stroke="#8f8f8f" stroke-width="0.95"/>
<rect x="189.14" y="758.56" width="21.19" height="21.19" fill="#fff" stroke="#8f8f8f" stroke-width="0.95"/>
<rect x="210.33" y="758.56" width="21.19" height="21.19" fill="#fff" stroke="#8f8f8f" stroke-width="0.95"/>
<rect x="231.52" y="758.56" width="21.19" height="21.19" fill="#fff" stroke="#8f8f8f" stroke-width="0.95"/>
<rect x="252.71" y="758.56" width="21.19" height="21.19" fill="#fff" stroke="#8f8f8f" stroke-width="0.95"/>
<rect x="273.90" y="758.56" width="21.19" height="21.19" fill="#fff" stroke="#8f8f8f" stroke-width="0.95"/>
<rect x="295.09" y="758.56" width="21.19" height="21.19" fill="#fff" stroke="#8f8f8f" stroke-width="0.95"/>
<rect x="316.28" y="758.56" width="21.19" height="21.19" fill="#fff" stroke="#8f8f8f" stroke-width="0.95"/>
<rect x="337.47" y="758.56" width="21.19" height="21.19" fill="#fff" stroke="#8f8f8f" stroke-width="0.95"/>
<rect x="358.66" y="758.56" width="21.19" height="21.19" fill="#fff" stroke="#8f8f8f" stroke-width="0.95"/>
<rect x="62.00" y="779.75" width="21.19" height="21.19" fill="#fff" stroke="#8f8f8f" stroke-width="0.95"/>
<rect x="83.19" y="779.75" width="21.19" height="21.19" fill="#fff" stroke="#8f8f8f" stroke-width="0.95"/>
<rect x="104.38" y="779.75" width="21.19" height="21.19" fill="#fff" stroke="#8f8f8f" stroke-width="0.95"/>
<rect x="125.57" y="779.75" width="21.19" height="21.19" fill="#fff" stroke="#8f8f8f" stroke-width="0.95"/>
<rect x="146.76" y="779.75" width="21.19" height="21.19" fill="#fff" stroke="#8f8f8f" stroke-width="0.95"/>
<rect x="167.95" y="779.75" width="21.19" height="21.19" fill="#fff" stroke="#8f8f8f" stroke-width="0.95"/>
<rect x="189.14" y="779.75" width="21.19" height="21.19" fill="#fff" stroke="#8f8f8f" stroke-width="0.95"/>
<rect x="210.33" y="779.75" width="21.19" height="21.19" fill="#fff" stroke="#8f8f8f" stroke-width="0.95"/>
<rect x="231.52" y="779.75" width="21.19" height="21.19" fill="#fff" stroke="#8f8f8f" stroke-width="0.95"/>
<rect x="252.71" y="779.75" width="21.19" height="21.19" fill="#fff" stroke="#8f8f8f" stroke-width="0.95"/>
<rect x="273.90" y="779.75" width="21.19" height="21.19" fill="#fff" stroke="#8f8f8f" stroke-width="0.95"/>
<rect x="295.09" y="779.75" width="21.19" height="21.19" fill="#fff" stroke="#8f8f8f" stroke-width="0.95"/>
<rect x="316.28" y="779.75" width="21.19" height="21.19" fill="#fff" stroke="#8f8f8f" stroke-width="0.95"/>
<rect x="337.47" y="779.75" width="21.19" height="21.19" fill="#fff" stroke="#8f8f8f" stroke-width="0.95"/>
<rect x="358.66" y="779.75" width="21.19" height="21.19" fill="#fff" stroke="#8f8f8f" stroke-width="0.95"/>
<rect x="379.85" y="779.75" width="21.19" height="21.19" fill="#fff" stroke="#8f8f8f" stroke-width="0.95"/>
<rect x="62.00" y="800.94" width="21.19" height="21.19" fill="#fff" stroke="#8f8f8f" stroke-width="0.95"/>
<rect x="83.19" y="800.94" width="21.19" height="21.19" fill="#fff" stroke="#8f8f8f" stroke-width="0.95"/>
<rect x="104.38" y="800.94" width="21.19" height="21.19" fill="#fff" stroke="#8f8f8f" stroke-width="0.95"/>
<rect x="125.57" y="800.94" width="21.19" height="21.19" fill="#fff" stroke="#8f8f8f" stroke-width="0.95"/>
<rect x="146.76" y="800.94" width="21.19" height="21.19" fill="#fff" stroke="#8f8f8f" stroke-width="0.95"/>
<rect x="167.95" y="800.94" width="21.19" height="21.19" fill="#fff" stroke="#8f8f8f" stroke-width="0.95"/>
<rect x="189.14" y="800.94" width="21.19" height="21.19" fill="#fff" stroke="#8f8f8f" stroke-width="0.95"/>
<rect x="210.33" y="800.94" width="21.19" height="21.19" fill="#fff" stroke="#8f8f8f" stroke-width="0.95"/>
<rect x="231.52" y="800.94" width="21.19" height="21.19" fill="#fff" stroke="#8f8f8f" stroke-width="0.95"/>
<rect x="252.71" y="800.94" width="21.19" height="21.19" fill="#fff" stroke="#8f8f8f" stroke-width="0.95"/>
<rect x="273.90" y="800.94" width="21.19" height="21.19" fill="#fff" stroke="#8f8f8f" stroke-width="0.95"/>
<rect x="295.09" y="800.94" width="21.19" height="21.19" fill="#fff" stroke="#8f8f8f" stroke-width="0.95"/>
<rect x="316.28" y="800.94" width="21.19" height="21.19" fill="#fff" stroke="#8f8f8f" stroke-width="0.95"/>
<rect x="337.47" y="800.94" width="21.19" height="21.19" fill="#fff" stroke="#8f8f8f" stroke-width="0.95"/>
<rect x="358.66" y="800.94" width="21.19" height="21.19" fill="#fff" stroke="#8f8f8f" stroke-width="0.95"/>
<rect x="379.85" y="800.94" width="21.19" height="21.19" fill="#fff" stroke="#8f8f8f" stroke-width="0.95"/>
<rect x="401.04" y="800.94" width="21.19" height="21.19" fill="#fff" stroke="#8f8f8f" stroke-width="0.95"/>
<rect x="67.42" y="467.32" width="10.35" height="10.35" fill="#d3ecf4" stroke="#606060" stroke-width="1.1"/>
<rect x="65.61" y="486.70" width="13.96" height="13.96" fill="#9dcee3" stroke="#606060" stroke-width="1.1"/>
<rect x="87.21" y="487.11" width="13.15" height="13.15" fill="#fdae61" stroke="#606060" stroke-width="1.1"/>
<rect x="64.65" y="506.93" width="15.89" height="15.89" fill="#f57346" stroke="#606060" stroke-width="1.1"/>
<rect x="83.58" y="504.67" width="20.40" height="20.40" fill="#36469d" stroke="#606060" stroke-width="1.1"/>
<rect x="107.99" y="507.89" width="13.96" height="13.96" fill="#9dcee3" stroke="#606060" stroke-width="1.1"/>
<rect x="64.18" y="527.65" width="16.83" height="16.83" fill="#ed5e3c" stroke="#606060" stroke-width="1.1"/>
<rect x="87.38" y="529.66" width="12.81" height="12.81" fill="#b0dcea" stroke="#606060" stroke-width="1.1"/>
<rect x="104.77" y="525.86" width="20.40" height="20.40" fill="#36469d" stroke="#606060" stroke-width="1.1"/>
<rect x="128.22" y="528.12" width="15.89" height="15.89" fill="#f57346" stroke="#606060" stroke-width="1.1"/>
<rect x="66.92" y="551.58" width="11.36" height="11.36" fill="#fec778" stroke="#606060" stroke-width="1.1"/>
<rect x="87.64" y="551.11" width="12.29" height="12.29" fill="#fdba6d" stroke="#606060" stroke-width="1.1"/>
<rect x="106.11" y="548.39" width="17.73" height="17.73" fill="#588bc0" stroke="#606060" stroke-width="1.1"/>
<rect x="132.94" y="554.03" width="6.45" height="6.45" fill="#f0f9dc" stroke="#606060" stroke-width="1.1"/>
<rect x="148.74" y="548.64" width="17.22" height="17.22" fill="#e85538" stroke="#606060" stroke-width="1.1"/>
<rect x="68.62" y="574.47" width="7.96" height="7.96" fill="#e8f6ea" stroke="#606060" stroke-width="1.1"/>
<rect x="88.11" y="572.77" width="11.36" height="11.36" fill="#c6e6f0" stroke="#606060" stroke-width="1.1"/>
<rect x="110.60" y="574.07" width="8.74" height="8.74" fill="#fee395" stroke="#606060" stroke-width="1.1"/>
<rect x="131.55" y="573.83" width="9.23" height="9.23" fill="#fee090" stroke="#606060" stroke-width="1.1"/>
<rect x="153.38" y="574.47" width="7.96" height="7.96" fill="#e8f6ea" stroke="#606060" stroke-width="1.1"/>
<rect x="171.97" y="571.87" width="13.15" height="13.15" fill="#abd9e9" stroke="#606060" stroke-width="1.1"/>
<rect x="70.35" y="597.39" width="4.49" height="4.49" fill="#f7fccd" stroke="#606060" stroke-width="1.1"/>
<rect x="88.11" y="593.96" width="11.36" height="11.36" fill="#c6e6f0" stroke="#606060" stroke-width="1.1"/>
<rect x="111.43" y="596.09" width="7.09" height="7.09" fill="#feeca3" stroke="#606060" stroke-width="1.1"/>
<rect x="131.55" y="595.02" width="9.23" height="9.23" fill="#fee090" stroke="#606060" stroke-width="1.1"/>
<rect x="154.13" y="596.41" width="6.45" height="6.45" fill="#f0f9dc" stroke="#606060" stroke-width="1.1"/>
<rect x="172.87" y="593.96" width="11.36" height="11.36" fill="#c6e6f0" stroke="#606060" stroke-width="1.1"/>
<rect x="190.21" y="590.11" width="19.06" height="19.06" fill="#cf2927" stroke="#606060" stroke-width="1.1"/>
<rect x="69.37" y="617.60" width="6.45" height="6.45" fill="#f0f9dc" stroke="#606060" stroke-width="1.1"/>
<rect x="90.24" y="617.28" width="7.09" height="7.09" fill="#ecf8e1" stroke="#606060" stroke-width="1.1"/>
<rect x="107.99" y="613.84" width="13.96" height="13.96" fill="#fb9e5a" stroke="#606060" stroke-width="1.1"/>
<rect x="133.29" y="617.95" width="5.74" height="5.74" fill="#fff3ac" stroke="#606060" stroke-width="1.1"/>
<rect x="150.78" y="614.25" width="13.15" height="13.15" fill="#abd9e9" stroke="#606060" stroke-width="1.1"/>
<rect x="170.60" y="612.88" width="15.89" height="15.89" fill="#7ab1d3" stroke="#606060" stroke-width="1.1"/>
<rect x="194.78" y="615.87" width="9.91" height="9.91" fill="#fed889" stroke="#606060" stroke-width="1.1"/>
<rect x="215.97" y="615.87" width="9.91" height="9.91" fill="#fed889" stroke="#606060" stroke-width="1.1"/>
<rect x="69.05" y="638.47" width="7.09" height="7.09" fill="#ecf8e1" stroke="#606060" stroke-width="1.1"/>
<rect x="89.54" y="637.77" width="8.49" height="8.49" fill="#e5f5ef" stroke="#606060" stroke-width="1.1"/>
<rect x="110.73" y="637.77" width="8.49" height="8.49" fill="#fee597" stroke="#606060" stroke-width="1.1"/>
<rect x="133.29" y="639.14" width="5.74" height="5.74" fill="#fff3ac" stroke="#606060" stroke-width="1.1"/>
<rect x="153.38" y="638.04" width="7.96" height="7.96" fill="#e8f6ea" stroke="#606060" stroke-width="1.1"/>
<rect x="172.87" y="636.34" width="11.36" height="11.36" fill="#c6e6f0" stroke="#606060" stroke-width="1.1"/>
<rect x="191.65" y="633.93" width="16.16" height="16.16" fill="#f46d43" stroke="#606060" stroke-width="1.1"/>
<rect x="216.95" y="638.04" width="7.96" height="7.96" fill="#fee89c" stroke="#606060" stroke-width="1.1"/>
<rect x="238.89" y="638.79" width="6.45" height="6.45" fill="#fef0a8" stroke="#606060" stroke-width="1.1"/>
<rect x="70.35" y="660.96" width="4.49" height="4.49" fill="#fff7b3" stroke="#606060" stroke-width="1.1"/>
<rect x="89.17" y="658.59" width="9.23" height="9.23" fill="#e0f3f8" stroke="#606060" stroke-width="1.1"/>
<rect x="112.50" y="660.73" width="4.94" height="4.94" fill="#fff6b1" stroke="#606060" stroke-width="1.1"/>
<rect x="131.79" y="658.83" width="8.74" height="8.74" fill="#fee395" stroke="#606060" stroke-width="1.1"/>
<rect x="155.11" y="660.96" width="4.49" height="4.49" fill="#fff7b3" stroke="#606060" stroke-width="1.1"/>
<rect x="175.49" y="660.15" width="6.11" height="6.11" fill="#f1fad9" stroke="#606060" stroke-width="1.1"/>
<rect x="189.92" y="653.39" width="19.63" height="19.63" fill="#c31d27" stroke="#606060" stroke-width="1.1"/>
<rect x="211.69" y="653.97" width="18.46" height="18.46" fill="#da362a" stroke="#606060" stroke-width="1.1"/>
<rect x="238.14" y="659.23" width="7.96" height="7.96" fill="#e8f6ea" stroke="#606060" stroke-width="1.1"/>
<rect x="255.57" y="655.47" width="15.46" height="15.46" fill="#f67d4a" stroke="#606060" stroke-width="1.1"/>
<rect x="70.60" y="682.40" width="3.99" height="3.99" fill="#fff9b6" stroke="#606060" stroke-width="1.1"/>
<rect x="88.61" y="679.22" width="10.35" height="10.35" fill="#d3ecf4" stroke="#606060" stroke-width="1.1"/>
<rect x="111.43" y="680.85" width="7.09" height="7.09" fill="#ecf8e1" stroke="#606060" stroke-width="1.1"/>
<rect x="131.55" y="679.78" width="9.23" height="9.23" fill="#fee090" stroke="#606060" stroke-width="1.1"/>
<rect x="153.11" y="680.15" width="8.49" height="8.49" fill="#fee597" stroke="#606060" stroke-width="1.1"/>
<rect x="176.55" y="682.40" width="3.99" height="3.99" fill="#fff9b6" stroke="#606060" stroke-width="1.1"/>
<rect x="190.68" y="675.34" width="18.10" height="18.10" fill="#de3f2e" stroke="#606060" stroke-width="1.1"/>
<rect x="211.28" y="674.75" width="19.29" height="19.29" fill="#ca2427" stroke="#606060" stroke-width="1.1"/>
<rect x="237.27" y="679.55" width="9.69" height="9.69" fill="#dbf0f6" stroke="#606060" stroke-width="1.1"/>
<rect x="259.61" y="680.70" width="7.39" height="7.39" fill="#feeba0" stroke="#606060" stroke-width="1.1"/>
<rect x="274.74" y="674.64" width="19.51" height="19.51" fill="#c51f27" stroke="#606060" stroke-width="1.1"/>
<rect x="68.35" y="701.34" width="8.49" height="8.49" fill="#fee597" stroke="#606060" stroke-width="1.1"/>
<rect x="86.80" y="698.60" width="13.96" height="13.96" fill="#9dcee3" stroke="#606060" stroke-width="1.1"/>
<rect x="111.28" y="701.89" width="7.39" height="7.39" fill="#feeba0" stroke="#606060" stroke-width="1.1"/>
<rect x="128.95" y="698.37" width="14.43" height="14.43" fill="#f99455" stroke="#606060" stroke-width="1.1"/>
<rect x="154.88" y="703.11" width="4.94" height="4.94" fill="#fff6b1" stroke="#606060" stroke-width="1.1"/>
<rect x="171.56" y="698.60" width="13.96" height="13.96" fill="#9dcee3" stroke="#606060" stroke-width="1.1"/>
<rect x="192.99" y="698.84" width="13.48" height="13.48" fill="#fca85e" stroke="#606060" stroke-width="1.1"/>
<rect x="213.79" y="698.45" width="14.28" height="14.28" fill="#fa9757" stroke="#606060" stroke-width="1.1"/>
<rect x="235.54" y="699.01" width="13.15" height="13.15" fill="#fdae61" stroke="#606060" stroke-width="1.1"/>
<rect x="259.33" y="701.61" width="7.96" height="7.96" fill="#fee89c" stroke="#606060" stroke-width="1.1"/>
<rect x="279.65" y="700.74" width="9.69" height="9.69" fill="#fedb8b" stroke="#606060" stroke-width="1.1"/>
<rect x="301.07" y="700.97" width="9.23" height="9.23" fill="#fee090" stroke="#606060" stroke-width="1.1"/>
<rect x="68.48" y="722.66" width="8.23" height="8.23" fill="#fee699" stroke="#606060" stroke-width="1.1"/>
<rect x="88.94" y="721.93" width="9.69" height="9.69" fill="#dbf0f6" stroke="#606060" stroke-width="1.1"/>
<rect x="110.36" y="722.16" width="9.23" height="9.23" fill="#fee090" stroke="#606060" stroke-width="1.1"/>
<rect x="131.32" y="721.93" width="9.69" height="9.69" fill="#fedb8b" stroke="#606060" stroke-width="1.1"/>
<rect x="155.11" y="724.53" width="4.49" height="4.49" fill="#f7fccd" stroke="#606060" stroke-width="1.1"/>
<rect x="172.87" y="721.10" width="11.36" height="11.36" fill="#c6e6f0" stroke="#606060" stroke-width="1.1"/>
<rect x="194.06" y="721.10" width="11.36" height="11.36" fill="#fec778" stroke="#606060" stroke-width="1.1"/>
<rect x="213.94" y="719.79" width="13.96" height="13.96" fill="#fb9e5a" stroke="#606060" stroke-width="1.1"/>
<rect x="237.74" y="722.40" width="8.74" height="8.74" fill="#fee395" stroke="#606060" stroke-width="1.1"/>
<rect x="261.06" y="724.53" width="4.49" height="4.49" fill="#fff7b3" stroke="#606060" stroke-width="1.1"/>
<rect x="278.82" y="721.10" width="11.36" height="11.36" fill="#fec778" stroke="#606060" stroke-width="1.1"/>
<rect x="300.30" y="721.39" width="10.76" height="10.76" fill="#fecf80" stroke="#606060" stroke-width="1.1"/>
<rect x="318.39" y="718.29" width="16.96" height="16.96" fill="#eb5b3b" stroke="#606060" stroke-width="1.1"/>
<rect x="70.60" y="745.97" width="3.99" height="3.99" fill="#fff9b6" stroke="#606060" stroke-width="1.1"/>
<rect x="88.61" y="742.79" width="10.35" height="10.35" fill="#d3ecf4" stroke="#606060" stroke-width="1.1"/>
<rect x="111.14" y="744.13" width="7.68" height="7.68" fill="#fee99e" stroke="#606060" stroke-width="1.1"/>
<rect x="131.32" y="743.12" width="9.69" height="9.69" fill="#fedb8b" stroke="#606060" stroke-width="1.1"/>
<rect x="154.68" y="745.29" width="5.36" height="5.36" fill="#f4fbd3" stroke="#606060" stroke-width="1.1"/>
<rect x="172.68" y="742.10" width="11.74" height="11.74" fill="#c0e3ef" stroke="#606060" stroke-width="1.1"/>
<rect x="192.99" y="741.22" width="13.48" height="13.48" fill="#fca85e" stroke="#606060" stroke-width="1.1"/>
<rect x="213.56" y="740.60" width="14.73" height="14.73" fill="#f88e52" stroke="#606060" stroke-width="1.1"/>
<rect x="237.50" y="743.35" width="9.23" height="9.23" fill="#fee090" stroke="#606060" stroke-width="1.1"/>
<rect x="261.31" y="745.97" width="3.99" height="3.99" fill="#fff9b6" stroke="#606060" stroke-width="1.1"/>
<rect x="278.18" y="741.65" width="12.64" height="12.64" fill="#fdb568" stroke="#606060" stroke-width="1.1"/>
<rect x="299.37" y="741.65" width="12.64" height="12.64" fill="#fdb568" stroke="#606060" stroke-width="1.1"/>
<rect x="320.13" y="741.22" width="13.48" height="13.48" fill="#fca85e" stroke="#606060" stroke-width="1.1"/>
<rect x="341.75" y="741.65" width="12.64" height="12.64" fill="#fdb568" stroke="#606060" stroke-width="1.1"/>
<rect x="68.35" y="764.91" width="8.49" height="8.49" fill="#fee597" stroke="#606060" stroke-width="1.1"/>
<rect x="86.42" y="761.79" width="14.73" height="14.73" fill="#90c3dd" stroke="#606060" stroke-width="1.1"/>
<rect x="112.50" y="766.68" width="4.94" height="4.94" fill="#fff6b1" stroke="#606060" stroke-width="1.1"/>
<rect x="128.80" y="761.79" width="14.73" height="14.73" fill="#f88e52" stroke="#606060" stroke-width="1.1"/>
<rect x="154.13" y="765.93" width="6.45" height="6.45" fill="#fef0a8" stroke="#606060" stroke-width="1.1"/>
<rect x="173.06" y="763.67" width="10.96" height="10.96" fill="#cbe9f2" stroke="#606060" stroke-width="1.1"/>
<rect x="194.89" y="764.31" width="9.69" height="9.69" fill="#fedb8b" stroke="#606060" stroke-width="1.1"/>
<rect x="216.31" y="764.54" width="9.23" height="9.23" fill="#fee090" stroke="#606060" stroke-width="1.1"/>
<rect x="237.50" y="764.54" width="9.23" height="9.23" fill="#fee090" stroke="#606060" stroke-width="1.1"/>
<rect x="258.69" y="764.54" width="9.23" height="9.23" fill="#fee090" stroke="#606060" stroke-width="1.1"/>
<rect x="280.95" y="765.61" width="7.09" height="7.09" fill="#feeca3" stroke="#606060" stroke-width="1.1"/>
<rect x="302.81" y="766.28" width="5.74" height="5.74" fill="#fff3ac" stroke="#606060" stroke-width="1.1"/>
<rect x="318.39" y="760.67" width="16.96" height="16.96" fill="#eb5b3b" stroke="#606060" stroke-width="1.1"/>
<rect x="345.01" y="766.10" width="6.11" height="6.11" fill="#fff1aa" stroke="#606060" stroke-width="1.1"/>
<rect x="363.87" y="763.77" width="10.76" height="10.76" fill="#fecf80" stroke="#606060" stroke-width="1.1"/>
<rect x="67.98" y="785.73" width="9.23" height="9.23" fill="#fee090" stroke="#606060" stroke-width="1.1"/>
<rect x="90.09" y="786.65" width="7.39" height="7.39" fill="#ebf7e4" stroke="#606060" stroke-width="1.1"/>
<rect x="114.52" y="789.89" width="0.91" height="0.91" fill="#ffffbe" stroke="#606060" stroke-width="1.1"/>
<rect x="132.05" y="786.23" width="8.23" height="8.23" fill="#fee699" stroke="#606060" stroke-width="1.1"/>
<rect x="154.48" y="787.47" width="5.74" height="5.74" fill="#fff3ac" stroke="#606060" stroke-width="1.1"/>
<rect x="175.67" y="787.47" width="5.74" height="5.74" fill="#f3fad6" stroke="#606060" stroke-width="1.1"/>
<rect x="196.51" y="787.12" width="6.45" height="6.45" fill="#f0f9dc" stroke="#606060" stroke-width="1.1"/>
<rect x="217.70" y="787.12" width="6.45" height="6.45" fill="#f0f9dc" stroke="#606060" stroke-width="1.1"/>
<rect x="239.64" y="787.87" width="4.94" height="4.94" fill="#fff6b1" stroke="#606060" stroke-width="1.1"/>
<rect x="259.76" y="786.80" width="7.09" height="7.09" fill="#feeca3" stroke="#606060" stroke-width="1.1"/>
<rect x="281.27" y="787.12" width="6.45" height="6.45" fill="#f0f9dc" stroke="#606060" stroke-width="1.1"/>
<rect x="302.81" y="787.47" width="5.74" height="5.74" fill="#f3fad6" stroke="#606060" stroke-width="1.1"/>
<rect x="320.13" y="783.60" width="13.48" height="13.48" fill="#fca85e" stroke="#606060" stroke-width="1.1"/>
<rect x="343.69" y="785.97" width="8.74" height="8.74" fill="#fee395" stroke="#606060" stroke-width="1.1"/>
<rect x="361.52" y="782.61" width="15.46" height="15.46" fill="#82b8d7" stroke="#606060" stroke-width="1.1"/>
<rect x="385.83" y="785.73" width="9.23" height="9.23" fill="#fee090" stroke="#606060" stroke-width="1.1"/>
<rect x="69.21" y="808.15" width="6.78" height="6.78" fill="#feeea5" stroke="#606060" stroke-width="1.1"/>
<rect x="89.95" y="807.70" width="7.68" height="7.68" fill="#fee99e" stroke="#606060" stroke-width="1.1"/>
<rect x="112.73" y="809.29" width="4.49" height="4.49" fill="#fff7b3" stroke="#606060" stroke-width="1.1"/>
<rect x="133.92" y="809.29" width="4.49" height="4.49" fill="#f7fccd" stroke="#606060" stroke-width="1.1"/>
<rect x="154.48" y="808.66" width="5.74" height="5.74" fill="#fff3ac" stroke="#606060" stroke-width="1.1"/>
<rect x="174.17" y="807.16" width="8.74" height="8.74" fill="#fee395" stroke="#606060" stroke-width="1.1"/>
<rect x="194.56" y="806.36" width="10.35" height="10.35" fill="#d3ecf4" stroke="#606060" stroke-width="1.1"/>
<rect x="215.75" y="806.36" width="10.35" height="10.35" fill="#d3ecf4" stroke="#606060" stroke-width="1.1"/>
<rect x="238.42" y="807.84" width="7.39" height="7.39" fill="#ebf7e4" stroke="#606060" stroke-width="1.1"/>
<rect x="261.59" y="809.82" width="3.42" height="3.42" fill="#fffab8" stroke="#606060" stroke-width="1.1"/>
<rect x="280.12" y="807.16" width="8.74" height="8.74" fill="#e3f4f2" stroke="#606060" stroke-width="1.1"/>
<rect x="301.71" y="807.56" width="7.96" height="7.96" fill="#e8f6ea" stroke="#606060" stroke-width="1.1"/>
<rect x="324.63" y="809.29" width="4.49" height="4.49" fill="#fff7b3" stroke="#606060" stroke-width="1.1"/>
<rect x="343.69" y="807.16" width="8.74" height="8.74" fill="#fee395" stroke="#606060" stroke-width="1.1"/>
<rect x="359.79" y="802.07" width="18.94" height="18.94" fill="#436fb1" stroke="#606060" stroke-width="1.1"/>
<rect x="384.30" y="805.39" width="12.29" height="12.29" fill="#b8e0ed" stroke="#606060" stroke-width="1.1"/>
<rect x="402.77" y="802.67" width="17.73" height="17.73" fill="#e34832" stroke="#606060" stroke-width="1.1"/>
</g><g fill="#000" stroke="#000" stroke-width="0.15" stroke-linejoin="round">
<use href="#ast" x="72.80" y="472.50"/>
<use href="#ast" x="68.09" y="493.69"/>
<use href="#ast" x="72.80" y="493.69"/>
<use href="#ast" x="77.50" y="493.69"/>
<use href="#ast" x="89.28" y="493.69"/>
<use href="#ast" x="93.98" y="493.69"/>
<use href="#ast" x="98.69" y="493.69"/>
<use href="#ast" x="68.09" y="514.88"/>
<use href="#ast" x="72.80" y="514.88"/>
<use href="#ast" x="77.50" y="514.88"/>
<use href="#ast" x="89.28" y="514.88"/>
<use href="#ast" x="93.98" y="514.88"/>
<use href="#ast" x="98.69" y="514.88"/>
<use href="#ast" x="110.47" y="514.88"/>
<use href="#ast" x="115.17" y="514.88"/>
<use href="#ast" x="119.88" y="514.88"/>
<use href="#ast" x="68.09" y="536.06"/>
<use href="#ast" x="72.80" y="536.06"/>
<use href="#ast" x="77.50" y="536.06"/>
<use href="#ast" x="89.28" y="536.06"/>
<use href="#ast" x="93.98" y="536.06"/>
<use href="#ast" x="98.69" y="536.06"/>
<use href="#ast" x="110.47" y="536.06"/>
<use href="#ast" x="115.17" y="536.06"/>
<use href="#ast" x="119.88" y="536.06"/>
<use href="#ast" x="131.66" y="536.06"/>
<use href="#ast" x="136.37" y="536.06"/>
<use href="#ast" x="141.07" y="536.06"/>
<use href="#ast" x="70.44" y="557.25"/>
<use href="#ast" x="75.15" y="557.25"/>
<use href="#ast" x="89.28" y="557.25"/>
<use href="#ast" x="93.98" y="557.25"/>
<use href="#ast" x="98.69" y="557.25"/>
<use href="#ast" x="110.47" y="557.25"/>
<use href="#ast" x="115.17" y="557.25"/>
<use href="#ast" x="119.88" y="557.25"/>
<use href="#ast" x="152.85" y="557.25"/>
<use href="#ast" x="157.56" y="557.25"/>
<use href="#ast" x="162.26" y="557.25"/>
<use href="#ast" x="91.63" y="578.44"/>
<use href="#ast" x="96.34" y="578.44"/>
<use href="#ast" x="174.04" y="578.44"/>
<use href="#ast" x="178.75" y="578.44"/>
<use href="#ast" x="183.45" y="578.44"/>
<use href="#ast" x="91.63" y="599.63"/>
<use href="#ast" x="96.34" y="599.63"/>
<use href="#ast" x="136.37" y="599.63"/>
<use href="#ast" x="176.39" y="599.63"/>
<use href="#ast" x="181.10" y="599.63"/>
<use href="#ast" x="195.23" y="599.63"/>
<use href="#ast" x="199.94" y="599.63"/>
<use href="#ast" x="204.64" y="599.63"/>
<use href="#ast" x="110.47" y="620.83"/>
<use href="#ast" x="115.17" y="620.83"/>
<use href="#ast" x="119.88" y="620.83"/>
<use href="#ast" x="152.85" y="620.83"/>
<use href="#ast" x="157.56" y="620.83"/>
<use href="#ast" x="162.26" y="620.83"/>
<use href="#ast" x="174.04" y="620.83"/>
<use href="#ast" x="178.75" y="620.83"/>
<use href="#ast" x="183.45" y="620.83"/>
<use href="#ast" x="199.94" y="620.83"/>
<use href="#ast" x="221.12" y="620.83"/>
<use href="#ast" x="176.39" y="642.01"/>
<use href="#ast" x="181.10" y="642.01"/>
<use href="#ast" x="195.23" y="642.01"/>
<use href="#ast" x="199.94" y="642.01"/>
<use href="#ast" x="204.64" y="642.01"/>
<use href="#ast" x="93.98" y="663.20"/>
<use href="#ast" x="195.23" y="663.20"/>
<use href="#ast" x="199.94" y="663.20"/>
<use href="#ast" x="204.64" y="663.20"/>
<use href="#ast" x="216.42" y="663.20"/>
<use href="#ast" x="221.12" y="663.20"/>
<use href="#ast" x="225.83" y="663.20"/>
<use href="#ast" x="258.80" y="663.20"/>
<use href="#ast" x="263.50" y="663.20"/>
<use href="#ast" x="268.21" y="663.20"/>
<use href="#ast" x="93.98" y="684.39"/>
<use href="#ast" x="136.37" y="684.39"/>
<use href="#ast" x="195.23" y="684.39"/>
<use href="#ast" x="199.94" y="684.39"/>
<use href="#ast" x="204.64" y="684.39"/>
<use href="#ast" x="216.42" y="684.39"/>
<use href="#ast" x="221.12" y="684.39"/>
<use href="#ast" x="225.83" y="684.39"/>
<use href="#ast" x="242.31" y="684.39"/>
<use href="#ast" x="279.99" y="684.39"/>
<use href="#ast" x="284.69" y="684.39"/>
<use href="#ast" x="289.40" y="684.39"/>
<use href="#ast" x="89.28" y="705.59"/>
<use href="#ast" x="93.98" y="705.59"/>
<use href="#ast" x="98.69" y="705.59"/>
<use href="#ast" x="131.66" y="705.59"/>
<use href="#ast" x="136.37" y="705.59"/>
<use href="#ast" x="141.07" y="705.59"/>
<use href="#ast" x="174.04" y="705.59"/>
<use href="#ast" x="178.75" y="705.59"/>
<use href="#ast" x="183.45" y="705.59"/>
<use href="#ast" x="195.23" y="705.59"/>
<use href="#ast" x="199.94" y="705.59"/>
<use href="#ast" x="204.64" y="705.59"/>
<use href="#ast" x="216.42" y="705.59"/>
<use href="#ast" x="221.12" y="705.59"/>
<use href="#ast" x="225.83" y="705.59"/>
<use href="#ast" x="237.61" y="705.59"/>
<use href="#ast" x="242.31" y="705.59"/>
<use href="#ast" x="247.02" y="705.59"/>
<use href="#ast" x="284.69" y="705.59"/>
<use href="#ast" x="305.88" y="705.59"/>
<use href="#ast" x="93.98" y="726.77"/>
<use href="#ast" x="176.39" y="726.77"/>
<use href="#ast" x="181.10" y="726.77"/>
<use href="#ast" x="197.58" y="726.77"/>
<use href="#ast" x="202.29" y="726.77"/>
<use href="#ast" x="216.42" y="726.77"/>
<use href="#ast" x="221.12" y="726.77"/>
<use href="#ast" x="225.83" y="726.77"/>
<use href="#ast" x="282.34" y="726.77"/>
<use href="#ast" x="287.05" y="726.77"/>
<use href="#ast" x="303.53" y="726.77"/>
<use href="#ast" x="308.24" y="726.77"/>
<use href="#ast" x="322.37" y="726.77"/>
<use href="#ast" x="327.07" y="726.77"/>
<use href="#ast" x="331.78" y="726.77"/>
<use href="#ast" x="93.98" y="747.96"/>
<use href="#ast" x="136.37" y="747.96"/>
<use href="#ast" x="176.39" y="747.96"/>
<use href="#ast" x="181.10" y="747.96"/>
<use href="#ast" x="195.23" y="747.96"/>
<use href="#ast" x="199.94" y="747.96"/>
<use href="#ast" x="204.64" y="747.96"/>
<use href="#ast" x="216.42" y="747.96"/>
<use href="#ast" x="221.12" y="747.96"/>
<use href="#ast" x="225.83" y="747.96"/>
<use href="#ast" x="242.31" y="747.96"/>
<use href="#ast" x="279.99" y="747.96"/>
<use href="#ast" x="284.69" y="747.96"/>
<use href="#ast" x="289.40" y="747.96"/>
<use href="#ast" x="301.18" y="747.96"/>
<use href="#ast" x="305.88" y="747.96"/>
<use href="#ast" x="310.59" y="747.96"/>
<use href="#ast" x="322.37" y="747.96"/>
<use href="#ast" x="327.07" y="747.96"/>
<use href="#ast" x="331.78" y="747.96"/>
<use href="#ast" x="343.56" y="747.96"/>
<use href="#ast" x="348.26" y="747.96"/>
<use href="#ast" x="352.97" y="747.96"/>
<use href="#ast" x="89.28" y="769.15"/>
<use href="#ast" x="93.98" y="769.15"/>
<use href="#ast" x="98.69" y="769.15"/>
<use href="#ast" x="131.66" y="769.15"/>
<use href="#ast" x="136.37" y="769.15"/>
<use href="#ast" x="141.07" y="769.15"/>
<use href="#ast" x="176.39" y="769.15"/>
<use href="#ast" x="181.10" y="769.15"/>
<use href="#ast" x="199.94" y="769.15"/>
<use href="#ast" x="242.31" y="769.15"/>
<use href="#ast" x="263.50" y="769.15"/>
<use href="#ast" x="322.37" y="769.15"/>
<use href="#ast" x="327.07" y="769.15"/>
<use href="#ast" x="331.78" y="769.15"/>
<use href="#ast" x="367.10" y="769.15"/>
<use href="#ast" x="371.81" y="769.15"/>
<use href="#ast" x="322.37" y="790.35"/>
<use href="#ast" x="327.07" y="790.35"/>
<use href="#ast" x="331.78" y="790.35"/>
<use href="#ast" x="364.75" y="790.35"/>
<use href="#ast" x="369.45" y="790.35"/>
<use href="#ast" x="374.16" y="790.35"/>
<use href="#ast" x="390.64" y="790.35"/>
<use href="#ast" x="197.58" y="811.54"/>
<use href="#ast" x="202.29" y="811.54"/>
<use href="#ast" x="218.77" y="811.54"/>
<use href="#ast" x="223.48" y="811.54"/>
<use href="#ast" x="364.75" y="811.54"/>
<use href="#ast" x="369.45" y="811.54"/>
<use href="#ast" x="374.16" y="811.54"/>
<use href="#ast" x="385.94" y="811.54"/>
<use href="#ast" x="390.64" y="811.54"/>
<use href="#ast" x="395.35" y="811.54"/>
<use href="#ast" x="407.13" y="811.54"/>
<use href="#ast" x="411.84" y="811.54"/>
<use href="#ast" x="416.54" y="811.54"/>
</g>
<g fill="#b8b8b8">
<circle cx="72.59" cy="451.30" r="3.3"/>
<circle cx="93.78" cy="472.50" r="3.3"/>
<circle cx="114.97" cy="493.69" r="3.3"/>
<circle cx="136.17" cy="514.88" r="3.3"/>
<circle cx="157.36" cy="536.06" r="3.3"/>
<circle cx="178.55" cy="557.25" r="3.3"/>
<circle cx="199.74" cy="578.44" r="3.3"/>
<circle cx="220.93" cy="599.63" r="3.3"/>
<circle cx="242.12" cy="620.83" r="3.3"/>
<circle cx="263.31" cy="642.01" r="3.3"/>
<circle cx="284.50" cy="663.20" r="3.3"/>
<circle cx="305.69" cy="684.39" r="3.3"/>
<circle cx="326.88" cy="705.59" r="3.3"/>
<circle cx="348.06" cy="726.77" r="3.3"/>
<circle cx="369.25" cy="747.96" r="3.3"/>
<circle cx="390.44" cy="769.15" r="3.3"/>
<circle cx="411.64" cy="790.35" r="3.3"/>
<circle cx="432.83" cy="811.54" r="3.3"/>
</g>
<g fill="#a6a6a6" stroke="#111" stroke-width="1.25">
<circle cx="348.20" cy="478.60" r="2.55"/>
<circle cx="383.17" cy="516.73" r="2.55"/>
<circle cx="418.14" cy="554.86" r="2.55"/>
<circle cx="453.11" cy="592.99" r="2.55"/>
<circle cx="488.08" cy="631.12" r="2.55"/>
<circle cx="523.05" cy="669.25" r="2.55"/>
<circle cx="558.02" cy="707.38" r="2.55"/>
</g>
<g font-size="11.5" fill="#0d0d0d" stroke="#0d0d0d" stroke-width="0.15" text-anchor="end">
<text x="54.0" y="455.10">LC</text>
<text x="54.0" y="476.30">LN</text>
<text x="54.0" y="497.49">LP</text>
<text x="54.0" y="518.67">LC:LN</text>
<text x="54.0" y="539.86">LC:LP</text>
<text x="54.0" y="561.05">LN:LP</text>
<text x="54.0" y="582.24">SC</text>
<text x="54.0" y="603.43">SN</text>
<text x="54.0" y="624.62">SP</text>
<text x="54.0" y="645.81">SC:SN</text>
<text x="54.0" y="667.00">SC:SP</text>
<text x="54.0" y="688.19">SN:SP</text>
<text x="54.0" y="709.38">MBC</text>
<text x="54.0" y="730.57">MBN</text>
<text x="54.0" y="751.76">MBP</text>
<text x="54.0" y="772.95">MBC:MBN</text>
<text x="54.0" y="794.14">MBC:MBP</text>
<text x="54.0" y="815.34">MBN:MBP</text>
</g>
<g font-size="11.5" fill="#0d0d0d" stroke="#0d0d0d" stroke-width="0.15" text-anchor="end">
<text transform="translate(76.80,830.23) rotate(-90)">LC</text>
<text transform="translate(97.98,830.23) rotate(-90)">LN</text>
<text transform="translate(119.17,830.23) rotate(-90)">LP</text>
<text transform="translate(140.37,830.23) rotate(-90)">LC:LN</text>
<text transform="translate(161.56,830.23) rotate(-90)">LC:LP</text>
<text transform="translate(182.75,830.23) rotate(-90)">LN:LP</text>
<text transform="translate(203.94,830.23) rotate(-90)">SC</text>
<text transform="translate(225.12,830.23) rotate(-90)">SN</text>
<text transform="translate(246.31,830.23) rotate(-90)">SP</text>
<text transform="translate(267.50,830.23) rotate(-90)">SC:SN</text>
<text transform="translate(288.69,830.23) rotate(-90)">SC:SP</text>
<text transform="translate(309.88,830.23) rotate(-90)">SN:SP</text>
<text transform="translate(331.07,830.23) rotate(-90)">MBC</text>
<text transform="translate(352.26,830.23) rotate(-90)">MBN</text>
<text transform="translate(373.45,830.23) rotate(-90)">MBP</text>
<text transform="translate(394.64,830.23) rotate(-90)">MBC:MBN</text>
<text transform="translate(415.84,830.23) rotate(-90)">MBC:MBP</text>
<text transform="translate(437.03,830.23) rotate(-90)">MBN:MBP</text>
</g>
<text x="4.4" y="19.5" font-size="14.4" font-weight="bold" fill="#111">(a)</text>
<text x="4.4" y="466.3" font-size="14.4" font-weight="bold" fill="#111">(b)</text>
<text x="62.2" y="423.7" font-size="11.3" fill="#0d0d0d" stroke="#0d0d0d" stroke-width="0.15"><tspan font-style="italic">N</tspan> = 169</text>
<text x="62.2" y="870.5" font-size="11.3" fill="#0d0d0d" stroke="#0d0d0d" stroke-width="0.15"><tspan font-style="italic">N</tspan> = 97</text>
<g font-size="10.8" fill="#0d0d0d" stroke="#0d0d0d" stroke-width="0.15">
<text x="360.0" y="36.0">Rhizosphere bacterial</text><text x="360.0" y="47.3">Shannon diversity</text>
<text x="430.1" y="112.8">Rhizosphere fungal</text><text x="430.1" y="124.1">Shannon diversity</text>
<text x="499.7" y="188.9">Rhizosphere bacterial</text><text x="499.7" y="200.2">community composition</text>
<text x="568.9" y="265.1">Rhizosphere fungal</text><text x="568.9" y="276.4">community composition</text>
<text x="359.8" y="483.6">C-cycling gene</text><text x="359.8" y="494.8">Shannon diversity</text>
<text x="395.0" y="521.6">N-cycling gene</text><text x="395.0" y="532.8">Shannon diversity</text>
<text x="429.9" y="559.3">P-cycling gene</text><text x="429.9" y="570.5">Shannon diversity</text>
<text x="464.8" y="594.2">C-cycling gene</text><text x="464.8" y="605.4">composition</text>
<text x="500.2" y="632.1">N-cycling gene</text><text x="500.2" y="643.3">composition</text>
<text x="535.0" y="670.6">P-cycling gene</text><text x="535.0" y="681.9">composition</text>
<text x="569.0" y="712.6">C-, N-, and P-cycling</text><text x="569.0" y="723.8">gene TPM</text>
</g>
<text x="561.4" y="53.7" font-size="11.5" fill="#0d0d0d" stroke="#0d0d0d" stroke-width="0.15">Partial Mantel’s <tspan font-style="italic">r</tspan></text>
<line x1="564.1" x2="590.8" y1="71.06" y2="71.06" stroke="#595959" stroke-width="1.9"/>
<text x="604.3" y="75.0" font-size="11.5" fill="#0d0d0d" stroke="#0d0d0d" stroke-width="0.15">&lt; 0.2</text>
<line x1="564.1" x2="590.8" y1="94.2" y2="94.2" stroke="#595959" stroke-width="3.9"/>
<text x="604.3" y="98.8" font-size="11.5" fill="#0d0d0d" stroke="#0d0d0d" stroke-width="0.15">0.2–0.4</text>
<line x1="564.1" x2="590.8" y1="117.9" y2="117.9" stroke="#595959" stroke-width="5.65"/>
<text x="604.3" y="121.7" font-size="11.5" fill="#0d0d0d" stroke="#0d0d0d" stroke-width="0.15">&gt; 0.4</text>
<text x="577.7" y="370.6" font-size="11.5" fill="#0d0d0d" stroke="#0d0d0d" stroke-width="0.15">Spearman’s <tspan font-style="italic">r</tspan></text>
<defs><linearGradient id="cb" x1="0" y1="0" x2="0" y2="1"><stop offset="0.000" stop-color="#a50026"/><stop offset="0.050" stop-color="#be1826"/><stop offset="0.100" stop-color="#d73027"/><stop offset="0.150" stop-color="#e64e35"/><stop offset="0.200" stop-color="#f46d43"/><stop offset="0.250" stop-color="#f88e52"/><stop offset="0.300" stop-color="#fdae61"/><stop offset="0.350" stop-color="#fec779"/><stop offset="0.400" stop-color="#fee090"/><stop offset="0.450" stop-color="#fef0a8"/><stop offset="0.500" stop-color="#ffffbf"/><stop offset="0.550" stop-color="#f0f9dc"/><stop offset="0.600" stop-color="#e0f3f8"/><stop offset="0.650" stop-color="#c6e6f0"/><stop offset="0.700" stop-color="#abd9e9"/><stop offset="0.750" stop-color="#90c3dd"/><stop offset="0.800" stop-color="#74add1"/><stop offset="0.850" stop-color="#5c91c2"/><stop offset="0.900" stop-color="#4575b4"/><stop offset="0.950" stop-color="#3b55a4"/><stop offset="1.000" stop-color="#313695"/></linearGradient></defs>
<rect x="577.5" y="382.9" width="22.2" height="164.7" fill="url(#cb)"/>
<line x1="577.5" x2="581.9" y1="424.1" y2="424.1" stroke="#fff" stroke-width="0.9"/>
<line x1="595.3" x2="599.7" y1="424.1" y2="424.1" stroke="#fff" stroke-width="0.9"/>
<line x1="577.5" x2="581.9" y1="465.2" y2="465.2" stroke="#fff" stroke-width="0.9"/>
<line x1="595.3" x2="599.7" y1="465.2" y2="465.2" stroke="#fff" stroke-width="0.9"/>
<line x1="577.5" x2="581.9" y1="506.4" y2="506.4" stroke="#fff" stroke-width="0.9"/>
<line x1="595.3" x2="599.7" y1="506.4" y2="506.4" stroke="#fff" stroke-width="0.9"/>
<text x="610.2" y="386.8" font-size="11.5" fill="#0d0d0d" stroke="#0d0d0d" stroke-width="0.15">1.0</text>
<text x="610.2" y="428.0" font-size="11.5" fill="#0d0d0d" stroke="#0d0d0d" stroke-width="0.15">0.5</text>
<text x="610.2" y="469.1" font-size="11.5" fill="#0d0d0d" stroke="#0d0d0d" stroke-width="0.15">0.0</text>
<text x="610.2" y="510.3" font-size="11.5" fill="#0d0d0d" stroke="#0d0d0d" stroke-width="0.15">−0.5</text>
<text x="610.2" y="551.5" font-size="11.5" fill="#0d0d0d" stroke="#0d0d0d" stroke-width="0.15">−1.0</text>
<text x="561.7" y="772.9" font-size="11.5" fill="#0d0d0d" stroke="#0d0d0d" stroke-width="0.15"><tspan font-style="italic">P</tspan> value</text>
<line x1="561.8" x2="588.1" y1="788.9" y2="788.9" stroke="#609347" stroke-width="1.9"/>
<text x="602" y="793.0" font-size="11.5" fill="#0d0d0d" stroke="#0d0d0d" stroke-width="0.15">&lt; 0.001</text>
<line x1="561.8" x2="588.1" y1="810.7" y2="810.7" stroke="#635b84" stroke-width="1.9"/>
<text x="602" y="814.5" font-size="11.5" fill="#0d0d0d" stroke="#0d0d0d" stroke-width="0.15">0.001 &lt; X &lt; 0.01</text>
<line x1="561.8" x2="588.1" y1="832.0" y2="832.0" stroke="#a09f55" stroke-width="1.9"/>
<text x="602" y="836.0" font-size="11.5" fill="#0d0d0d" stroke="#0d0d0d" stroke-width="0.15">0.01 &lt; X &lt; 0.05</text>
<line x1="561.8" x2="588.1" y1="853.8" y2="853.8" stroke="#d9d9d9" stroke-width="1.9"/>
<text x="602" y="857.5" font-size="11.5" fill="#0d0d0d" stroke="#0d0d0d" stroke-width="0.15">≥ 0.05</text>
</svg></body></html>
